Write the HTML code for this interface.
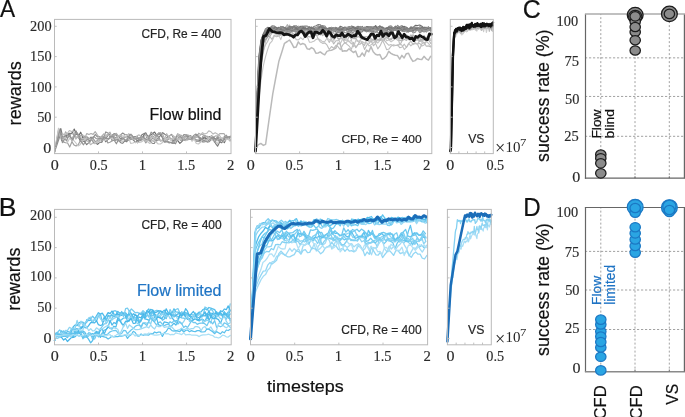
<!DOCTYPE html>
<html><head><meta charset="utf-8"><style>
html,body{margin:0;padding:0;background:#fff;width:685px;height:417px;overflow:hidden}
svg{display:block;will-change:transform}
</style></head><body>
<svg width="685" height="417" viewBox="0 0 685 417">
<rect width="685" height="417" fill="#fff"/>
<polyline points="54.5,152.6 59.0,129.1 61.7,140.7 63.8,136.7 65.9,135.4 68.0,134.6 70.1,134.0 72.2,132.8 74.3,129.1 76.5,134.3 78.6,135.7 80.7,132.2 82.8,137.9 84.9,137.2 87.0,139.2 89.1,138.8 91.2,137.4 93.4,142.3 95.5,143.0 97.6,144.3 99.7,142.3 101.8,142.2 103.9,137.0 106.0,138.8 108.1,134.6 110.3,136.9 112.4,136.8 114.5,137.2 116.6,137.5 118.7,140.2 120.8,138.6 122.9,137.6 125.0,137.3 127.1,136.3 129.3,138.7 131.4,139.0 133.5,140.0 135.6,142.6 137.7,140.0 139.8,140.5 141.9,139.7 144.0,134.6 146.2,135.6 148.3,136.4 150.4,135.0 152.5,133.8 154.6,132.0 156.7,135.4 158.8,133.0 160.9,135.3 163.1,138.6 165.2,140.2 167.3,137.2 169.4,136.1 171.5,134.4 173.6,137.6 175.7,138.5 177.8,140.6 179.9,143.4 182.1,141.3 184.2,136.9 186.3,135.2 188.4,137.9 190.5,135.7 192.6,137.8 194.7,137.3 196.8,136.0 199.0,137.6 201.1,139.5 203.2,137.7 205.3,138.2 207.4,139.2 209.5,137.5 211.6,138.1 213.7,137.4 215.9,139.5 218.0,137.5 220.1,139.6 222.2,139.7 224.3,142.7 226.4,138.6 228.5,138.2" fill="none" stroke="#6a6a6a" stroke-width="1.15" stroke-linejoin="round" stroke-linecap="round" opacity="1.0"/>
<polyline points="54.5,151.6 60.8,128.5 63.4,139.8 65.5,138.4 67.6,134.1 69.8,133.2 71.9,133.7 74.0,134.0 76.1,138.2 78.2,136.0 80.3,141.4 82.4,141.2 84.5,141.4 86.7,144.7 88.8,142.6 90.9,137.1 93.0,138.7 95.1,141.7 97.2,140.8 99.3,138.0 101.4,137.9 103.6,138.3 105.7,141.8 107.8,139.5 109.9,138.2 112.0,135.5 114.1,133.6 116.2,134.2 118.3,139.7 120.4,142.5 122.6,143.4 124.7,140.9 126.8,141.8 128.9,137.9 131.0,137.8 133.1,137.5 135.2,136.6 137.3,136.9 139.5,140.5 141.6,135.1 143.7,133.8 145.8,132.9 147.9,136.7 150.0,141.2 152.1,143.2 154.2,143.5 156.4,140.0 158.5,137.8 160.6,135.4 162.7,132.7 164.8,134.2 166.9,135.4 169.0,137.5 171.1,138.7 173.2,141.0 175.4,139.2 177.5,138.5 179.6,139.4 181.7,140.8 183.8,139.2 185.9,136.5 188.0,137.3 190.1,137.4 192.3,139.1 194.4,139.5 196.5,139.9 198.6,140.1 200.7,140.8 202.8,139.3 204.9,136.6 207.0,139.4 209.2,136.5 211.3,138.2 213.4,139.2 215.5,143.3 217.6,146.2 219.7,141.9 221.8,142.8 223.9,139.7 226.0,139.3 228.2,138.7 230.3,136.2" fill="none" stroke="#7c7c7c" stroke-width="1.15" stroke-linejoin="round" stroke-linecap="round" opacity="1.0"/>
<polyline points="54.5,152.1 60.9,133.2 63.6,139.7 65.7,136.7 67.8,137.4 69.9,134.5 72.0,141.1 74.1,134.4 76.2,131.0 78.3,137.6 80.5,138.5 82.6,139.9 84.7,140.1 86.8,136.8 88.9,138.5 91.0,140.5 93.1,137.7 95.2,134.5 97.4,136.9 99.5,136.5 101.6,140.4 103.7,137.0 105.8,131.9 107.9,132.9 110.0,135.0 112.1,140.7 114.2,140.2 116.4,143.8 118.5,139.6 120.6,134.9 122.7,133.0 124.8,134.5 126.9,134.7 129.0,137.4 131.1,137.0 133.3,136.8 135.4,137.2 137.5,142.9 139.6,140.3 141.7,138.4 143.8,139.7 145.9,138.1 148.0,136.4 150.2,141.3 152.3,138.2 154.4,139.2 156.5,141.1 158.6,139.6 160.7,140.7 162.8,140.7 164.9,141.8 167.0,141.8 169.2,142.9 171.3,142.3 173.4,142.9 175.5,143.8 177.6,139.5 179.7,139.0 181.8,137.9 183.9,134.6 186.1,134.7 188.2,136.1 190.3,139.2 192.4,137.2 194.5,136.7 196.6,135.2 198.7,136.7 200.8,138.0 203.0,142.3 205.1,139.6 207.2,142.1 209.3,141.6 211.4,139.3 213.5,138.8 215.6,138.8 217.7,137.7 219.8,141.5 222.0,140.2 224.1,136.9 226.2,135.2 228.3,139.5 230.4,137.1" fill="none" stroke="#8e8e8e" stroke-width="1.15" stroke-linejoin="round" stroke-linecap="round" opacity="1.0"/>
<polyline points="54.5,151.1 58.7,132.3 61.3,136.5 63.4,141.9 65.5,142.8 67.6,143.0 69.7,147.1 71.9,141.8 74.0,144.9 76.1,146.0 78.2,144.8 80.3,140.7 82.4,142.2 84.5,136.1 86.6,137.5 88.8,139.0 90.9,138.1 93.0,138.9 95.1,141.7 97.2,142.1 99.3,140.6 101.4,136.4 103.5,137.0 105.7,136.9 107.8,143.0 109.9,142.2 112.0,141.1 114.1,136.5 116.2,134.2 118.3,136.1 120.4,136.3 122.5,137.7 124.7,139.9 126.8,139.7 128.9,140.4 131.0,139.3 133.1,138.0 135.2,139.0 137.3,136.9 139.4,140.2 141.6,139.8 143.7,139.3 145.8,142.9 147.9,140.3 150.0,138.5 152.1,135.6 154.2,137.2 156.3,136.9 158.5,136.6 160.6,140.9 162.7,139.7 164.8,142.4 166.9,140.6 169.0,138.7 171.1,138.5 173.2,142.8 175.3,138.6 177.5,138.3 179.6,136.8 181.7,139.2 183.8,140.0 185.9,135.7 188.0,137.6 190.1,139.1 192.2,140.0 194.4,137.8 196.5,141.5 198.6,141.3 200.7,142.3 202.8,136.3 204.9,135.4 207.0,136.8 209.1,137.4 211.3,138.6 213.4,139.8 215.5,140.0 217.6,136.3 219.7,138.1 221.8,139.1 223.9,138.6 226.0,136.1 228.1,136.5 230.3,139.7" fill="none" stroke="#9e9e9e" stroke-width="1.15" stroke-linejoin="round" stroke-linecap="round" opacity="1.0"/>
<polyline points="54.5,152.4 58.8,129.1 61.4,137.7 63.5,137.6 65.6,131.8 67.8,134.9 69.9,136.8 72.0,138.4 74.1,135.4 76.2,137.4 78.3,137.8 80.4,135.5 82.5,134.5 84.7,138.2 86.8,133.5 88.9,134.5 91.0,133.5 93.1,134.4 95.2,131.6 97.3,134.9 99.4,137.5 101.5,136.6 103.7,133.9 105.8,135.4 107.9,134.3 110.0,132.1 112.1,137.5 114.2,134.5 116.3,133.3 118.4,136.1 120.6,136.8 122.7,138.1 124.8,136.2 126.9,138.1 129.0,136.5 131.1,134.1 133.2,139.1 135.3,137.6 137.5,137.8 139.6,138.7 141.7,137.4 143.8,137.7 145.9,140.7 148.0,140.6 150.1,139.5 152.2,140.2 154.3,141.8 156.5,135.3 158.6,133.4 160.7,132.6 162.8,134.4 164.9,139.7 167.0,139.5 169.1,137.7 171.2,138.6 173.4,139.3 175.5,138.0 177.6,133.7 179.7,134.7 181.8,135.6 183.9,137.8 186.0,134.7 188.1,135.1 190.3,136.0 192.4,137.1 194.5,138.3 196.6,137.3 198.7,133.2 200.8,134.5 202.9,134.4 205.0,136.9 207.1,136.2 209.3,139.3 211.4,135.5 213.5,137.0 215.6,135.9 217.7,136.0 219.8,133.5 221.9,133.6 224.0,133.6 226.2,137.9 228.3,139.6 230.4,140.6" fill="none" stroke="#acacac" stroke-width="1.15" stroke-linejoin="round" stroke-linecap="round" opacity="1.0"/>
<polyline points="54.5,151.7 58.4,130.3 61.0,137.3 63.1,134.1 65.2,135.0 67.3,133.5 69.4,130.5 71.6,131.5 73.7,130.8 75.8,139.1 77.9,135.4 80.0,136.3 82.1,138.8 84.2,138.3 86.3,140.5 88.5,141.8 90.6,144.7 92.7,143.0 94.8,143.7 96.9,142.7 99.0,138.3 101.1,137.5 103.2,140.1 105.4,137.7 107.5,135.0 109.6,135.6 111.7,136.0 113.8,136.5 115.9,138.8 118.0,135.7 120.1,135.1 122.2,135.9 124.4,136.3 126.5,136.8 128.6,133.7 130.7,135.5 132.8,139.5 134.9,138.1 137.0,135.8 139.1,134.9 141.3,136.4 143.4,139.7 145.5,134.5 147.6,137.4 149.7,136.9 151.8,137.2 153.9,138.3 156.0,138.6 158.2,140.1 160.3,140.6 162.4,140.2 164.5,139.2 166.6,133.6 168.7,136.9 170.8,134.8 172.9,135.6 175.0,137.0 177.2,139.8 179.3,138.9 181.4,140.2 183.5,138.5 185.6,137.3 187.7,139.6 189.8,136.4 191.9,137.0 194.1,137.0 196.2,136.5 198.3,137.4 200.4,135.2 202.5,132.7 204.6,134.0 206.7,133.3 208.8,130.9 211.0,131.8 213.1,134.1 215.2,132.7 217.3,134.0 219.4,135.3 221.5,138.6 223.6,137.5 225.7,138.7 227.8,137.4 230.0,141.2" fill="none" stroke="#bababa" stroke-width="1.15" stroke-linejoin="round" stroke-linecap="round" opacity="1.0"/>
<polyline points="54.5,151.8 58.5,128.2 61.1,138.7 63.2,139.7 65.3,137.3 67.4,142.5 69.5,138.5 71.7,139.9 73.8,140.5 75.9,143.0 78.0,146.0 80.1,144.8 82.2,141.1 84.3,140.0 86.4,137.9 88.5,139.4 90.7,139.2 92.8,139.9 94.9,142.6 97.0,141.8 99.1,142.2 101.2,139.5 103.3,140.3 105.4,140.3 107.6,139.0 109.7,137.4 111.8,138.8 113.9,139.6 116.0,139.5 118.1,137.6 120.2,140.6 122.3,142.8 124.5,135.6 126.6,137.7 128.7,138.5 130.8,143.4 132.9,143.0 135.0,142.1 137.1,142.5 139.2,142.4 141.3,141.9 143.5,140.6 145.6,138.6 147.7,141.7 149.8,143.5 151.9,141.2 154.0,140.4 156.1,142.0 158.2,144.0 160.4,144.0 162.5,142.5 164.6,140.4 166.7,138.4 168.8,137.7 170.9,140.7 173.0,137.1 175.1,137.0 177.3,138.5 179.4,139.5 181.5,138.1 183.6,139.7 185.7,140.6 187.8,140.2 189.9,137.5 192.0,141.3 194.1,139.0 196.3,143.5 198.4,144.0 200.5,142.2 202.6,139.5 204.7,142.3 206.8,139.7 208.9,137.6 211.0,139.6 213.2,140.4 215.3,140.7 217.4,144.2 219.5,137.9 221.6,137.9 223.7,141.4 225.8,139.8 227.9,139.1 230.1,139.9" fill="none" stroke="#c6c6c6" stroke-width="1.15" stroke-linejoin="round" stroke-linecap="round" opacity="1.0"/>
<polyline points="54.5,151.3 59.8,130.2 62.4,142.6 64.5,139.3 66.7,140.6 68.8,135.5 70.9,137.9 73.0,139.7 75.1,134.8 77.2,132.9 79.3,136.0 81.4,142.1 83.5,144.8 85.7,141.0 87.8,138.8 89.9,142.2 92.0,137.5 94.1,136.6 96.2,138.6 98.3,138.8 100.4,138.2 102.6,139.6 104.7,137.5 106.8,138.3 108.9,138.7 111.0,136.4 113.1,136.2 115.2,140.4 117.3,139.6 119.5,141.5 121.6,139.8 123.7,138.3 125.8,141.3 127.9,138.1 130.0,134.4 132.1,135.2 134.2,138.9 136.3,139.0 138.5,138.2 140.6,137.3 142.7,136.6 144.8,138.8 146.9,139.6 149.0,137.7 151.1,132.1 153.2,134.0 155.4,135.8 157.5,135.6 159.6,133.3 161.7,135.1 163.8,141.4 165.9,141.2 168.0,141.5 170.1,142.3 172.3,143.5 174.4,143.4 176.5,136.4 178.6,135.8 180.7,136.4 182.8,139.8 184.9,140.1 187.0,138.8 189.1,139.1 191.3,139.2 193.4,135.7 195.5,134.1 197.6,134.8 199.7,139.5 201.8,138.9 203.9,141.0 206.0,141.5 208.2,140.7 210.3,139.3 212.4,137.1 214.5,142.4 216.6,139.6 218.7,140.4 220.8,139.9 222.9,141.2 225.1,137.2 227.2,137.8 229.3,136.6" fill="none" stroke="#959595" stroke-width="1.15" stroke-linejoin="round" stroke-linecap="round" opacity="1.0"/>
<polyline points="255.5,147.5 256.6,117.2 258.8,78.3 261.0,57.2 263.2,42.1 265.4,36.2 267.6,34.3 269.8,32.2 272.0,30.8 274.2,28.6 276.4,29.6 278.6,27.3 280.8,30.4 283.0,30.6 285.2,31.8 287.4,30.9 289.6,26.1 291.8,32.5 294.0,34.8 296.2,33.7 298.5,29.3 300.7,29.7 302.9,32.8 305.1,32.3 307.3,35.7 309.5,36.9 311.7,36.7 313.9,34.1 316.1,35.2 318.3,35.1 320.5,32.6 322.7,35.7 324.9,33.3 327.1,37.9 329.3,32.8 331.5,39.4 333.7,43.9 335.9,40.7 338.1,40.7 340.3,38.8 342.6,38.1 344.8,43.2 347.0,41.9 349.2,35.5 351.4,39.5 353.6,36.4 355.8,38.8 358.0,40.8 360.2,43.3 362.4,43.3 364.6,45.4 366.8,39.0 369.0,40.3 371.2,42.2 373.4,39.3 375.6,42.4 377.8,40.1 380.0,38.7 382.2,37.5 384.4,38.5 386.7,36.6 388.9,39.3 391.1,38.6 393.3,36.6 395.5,38.2 397.7,37.2 399.9,44.9 402.1,40.8 404.3,39.2 406.5,40.4 408.7,38.1 410.9,34.8 413.1,36.7 415.3,37.0 417.5,39.9 419.7,41.5 421.9,40.8 424.1,43.2 426.3,41.8 428.5,39.1 430.8,40.4" fill="none" stroke="#b8b8b8" stroke-width="1.1" stroke-linejoin="round" stroke-linecap="round" opacity="1.0"/>
<polyline points="255.5,147.5 256.6,122.7 258.8,87.3 261.0,65.6 263.2,53.5 265.4,42.0 267.6,36.1 269.8,33.2 272.0,29.8 274.2,32.5 276.4,35.0 278.6,32.1 280.8,31.0 283.0,33.1 285.2,30.8 287.4,27.8 289.6,31.0 291.8,30.7 294.0,30.2 296.2,29.7 298.5,28.3 300.7,28.7 302.9,27.1 305.1,31.3 307.3,32.3 309.5,30.0 311.7,32.4 313.9,33.9 316.1,33.7 318.3,33.1 320.5,35.1 322.7,33.8 324.9,31.8 327.1,38.4 329.3,42.5 331.5,37.7 333.7,39.6 335.9,35.7 338.1,31.3 340.3,36.6 342.6,39.6 344.8,40.2 347.0,40.2 349.2,41.3 351.4,43.9 353.6,42.4 355.8,47.5 358.0,44.5 360.2,44.3 362.4,41.6 364.6,43.0 366.8,42.8 369.0,45.9 371.2,44.7 373.4,42.8 375.6,41.6 377.8,43.0 380.0,40.4 382.2,40.0 384.4,44.1 386.7,49.8 388.9,49.1 391.1,46.2 393.3,44.8 395.5,45.3 397.7,45.7 399.9,43.5 402.1,45.4 404.3,49.6 406.5,47.2 408.7,43.3 410.9,45.9 413.1,43.6 415.3,42.9 417.5,43.9 419.7,43.3 421.9,46.1 424.1,45.0 426.3,41.3 428.5,43.4 430.8,46.5" fill="none" stroke="#c0c0c0" stroke-width="1.1" stroke-linejoin="round" stroke-linecap="round" opacity="1.0"/>
<polyline points="255.5,147.5 256.6,117.1 258.8,76.1 261.0,53.0 263.2,43.5 265.4,33.1 267.6,30.3 269.8,32.2 272.0,32.8 274.2,31.4 276.4,31.7 278.6,33.6 280.8,35.4 283.0,30.7 285.2,32.3 287.4,27.8 289.6,25.0 291.8,28.9 294.0,26.8 296.2,29.8 298.5,26.0 300.7,26.9 302.9,32.2 305.1,32.0 307.3,31.3 309.5,30.0 311.7,27.1 313.9,32.6 316.1,31.2 318.3,24.9 320.5,29.6 322.7,32.3 324.9,32.1 327.1,35.1 329.3,32.5 331.5,32.9 333.7,31.9 335.9,31.4 338.1,29.8 340.3,34.2 342.6,34.8 344.8,39.7 347.0,36.2 349.2,36.8 351.4,36.9 353.6,38.6 355.8,38.6 358.0,36.4 360.2,37.9 362.4,38.0 364.6,38.8 366.8,38.8 369.0,37.0 371.2,39.1 373.4,39.7 375.6,40.4 377.8,39.9 380.0,39.1 382.2,39.9 384.4,39.6 386.7,37.3 388.9,39.3 391.1,39.9 393.3,37.2 395.5,38.3 397.7,37.7 399.9,40.8 402.1,40.2 404.3,34.6 406.5,35.6 408.7,37.2 410.9,37.3 413.1,40.0 415.3,40.8 417.5,39.5 419.7,37.5 421.9,42.3 424.1,35.6 426.3,38.9 428.5,39.4 430.8,43.5" fill="none" stroke="#b4b4b4" stroke-width="1.1" stroke-linejoin="round" stroke-linecap="round" opacity="1.0"/>
<polyline points="255.5,147.5 256.6,122.7 258.8,85.5 261.0,63.1 263.2,50.8 265.4,45.0 267.6,41.5 269.8,36.5 272.0,39.4 274.2,35.1 276.4,36.7 278.6,36.1 280.8,34.6 283.0,30.2 285.2,30.0 287.4,26.8 289.6,27.4 291.8,32.0 294.0,31.1 296.2,33.4 298.5,26.7 300.7,32.4 302.9,31.9 305.1,36.1 307.3,34.9 309.5,32.4 311.7,33.3 313.9,33.9 316.1,34.0 318.3,39.2 320.5,42.1 322.7,43.4 324.9,42.9 327.1,45.2 329.3,49.5 331.5,46.5 333.7,48.3 335.9,45.4 338.1,46.8 340.3,49.7 342.6,45.2 344.8,42.6 347.0,44.3 349.2,46.2 351.4,49.3 353.6,43.1 355.8,47.7 358.0,44.7 360.2,40.1 362.4,43.4 364.6,49.5 366.8,45.0 369.0,43.6 371.2,40.1 373.4,45.8 375.6,43.4 377.8,48.9 380.0,45.9 382.2,41.3 384.4,40.4 386.7,43.2 388.9,45.3 391.1,44.6 393.3,45.9 395.5,45.5 397.7,44.8 399.9,47.8 402.1,47.0 404.3,44.2 406.5,47.5 408.7,43.7 410.9,41.2 413.1,44.6 415.3,43.5 417.5,44.2 419.7,49.1 421.9,43.8 424.1,42.3 426.3,46.3 428.5,45.9 430.8,47.0" fill="none" stroke="#bcbcbc" stroke-width="1.1" stroke-linejoin="round" stroke-linecap="round" opacity="1.0"/>
<polyline points="255.5,147.5 256.6,129.5 258.8,100.2 261.0,80.2 263.2,66.4 265.4,57.1 267.6,49.6 269.8,43.5 272.0,41.2 274.2,36.3 276.4,36.3 278.6,34.6 280.8,39.6 283.0,32.8 285.2,35.3 287.4,33.5 289.6,36.8 291.8,31.4 294.0,34.8 296.2,39.8 298.5,39.9 300.7,37.7 302.9,39.6 305.1,36.2 307.3,36.8 309.5,42.2 311.7,42.1 313.9,41.2 316.1,39.4 318.3,38.8 320.5,40.0 322.7,41.9 324.9,41.3 327.1,38.0 329.3,39.6 331.5,41.3 333.7,41.1 335.9,36.6 338.1,37.7 340.3,43.8 342.6,39.0 344.8,37.7 347.0,39.2 349.2,41.8 351.4,40.1 353.6,46.8 355.8,40.5 358.0,41.5 360.2,40.8 362.4,37.7 364.6,38.2 366.8,39.7 369.0,42.0 371.2,39.0 373.4,40.9 375.6,39.6 377.8,40.6 380.0,37.8 382.2,39.7 384.4,35.7 386.7,40.8 388.9,39.9 391.1,41.9 393.3,40.3 395.5,38.6 397.7,40.4 399.9,36.9 402.1,36.9 404.3,36.6 406.5,39.2 408.7,39.7 410.9,39.3 413.1,39.4 415.3,43.0 417.5,44.1 419.7,40.4 421.9,41.7 424.1,39.5 426.3,39.4 428.5,37.7 430.8,39.2" fill="none" stroke="#c4c4c4" stroke-width="1.1" stroke-linejoin="round" stroke-linecap="round" opacity="1.0"/>
<polyline points="255.5,147.5 256.6,117.0 258.8,75.7 261.0,53.8 263.2,43.0 265.4,37.7 267.6,36.3 269.8,36.5 272.0,32.9 274.2,28.9 276.4,30.6 278.6,32.0 280.8,31.5 283.0,29.5 285.2,28.2 287.4,24.6 289.6,28.9 291.8,27.7 294.0,28.3 296.2,30.5 298.5,27.6 300.7,29.1 302.9,30.1 305.1,28.8 307.3,30.9 309.5,29.3 311.7,28.4 313.9,28.7 316.1,31.4 318.3,31.8 320.5,27.3 322.7,30.0 324.9,31.8 327.1,29.1 329.3,28.8 331.5,31.0 333.7,33.4 335.9,35.0 338.1,39.0 340.3,38.1 342.6,34.5 344.8,34.7 347.0,35.0 349.2,34.7 351.4,34.4 353.6,32.7 355.8,34.5 358.0,34.0 360.2,33.4 362.4,36.7 364.6,36.7 366.8,36.7 369.0,37.6 371.2,34.7 373.4,35.8 375.6,38.2 377.8,39.4 380.0,40.5 382.2,37.0 384.4,36.2 386.7,35.4 388.9,32.5 391.1,33.3 393.3,37.2 395.5,35.4 397.7,36.1 399.9,38.5 402.1,39.3 404.3,35.5 406.5,35.0 408.7,37.0 410.9,36.2 413.1,34.8 415.3,37.0 417.5,37.2 419.7,40.9 421.9,39.1 424.1,39.8 426.3,37.2 428.5,37.8 430.8,35.4" fill="none" stroke="#b0b0b0" stroke-width="1.1" stroke-linejoin="round" stroke-linecap="round" opacity="1.0"/>
<polyline points="255.5,149.5 258.1,144.8 260.8,143.4 263.4,145.4 265.6,144.3 268.7,122.1 272.8,93.6 275.8,77.5 278.8,61.6 282.0,51.6 284.5,43.3 287.3,41.5 289.5,40.0 291.7,43.3 293.9,47.6 296.1,47.1 298.3,41.9 300.5,44.6 302.7,43.5 304.9,44.4 307.1,48.7 309.3,49.4 311.5,47.6 313.7,48.9 315.9,53.2 318.1,53.0 320.3,51.9 322.5,53.7 324.7,54.8 326.9,51.4 329.1,50.6 331.4,50.2 333.6,49.4 335.8,48.1 338.0,43.0 340.2,44.1 342.4,51.2 344.6,50.7 346.8,51.0 349.0,48.7 351.2,50.7 353.4,52.5 355.6,51.1 357.8,56.7 360.0,56.4 362.2,53.0 364.4,56.1 366.6,50.1 368.8,51.8 371.0,46.6 373.2,51.7 375.5,54.2 377.7,55.0 379.9,54.6 382.1,59.2 384.3,58.3 386.5,56.0 388.7,51.2 390.9,53.4 393.1,54.5 395.3,55.2 397.5,55.6 399.7,59.1 401.9,55.4 404.1,58.0 406.3,53.7 408.5,53.3 410.7,58.0 412.9,61.4 415.1,60.6 417.3,58.6 419.6,59.2 421.8,59.5 424.0,56.3 426.2,58.8 428.4,60.1 430.6,56.4" fill="none" stroke="#bababa" stroke-width="1.5" stroke-linejoin="round" stroke-linecap="round" opacity="1.0"/>
<polyline points="255.5,149.9 256.6,110.2 258.8,65.2 261.0,45.7 263.2,36.4 265.4,34.2 267.6,30.3 269.8,30.0 272.0,29.3 274.2,29.9 276.4,29.6 278.6,29.4 280.8,33.2 283.0,29.5 285.2,28.9 287.4,29.5 289.6,26.9 291.8,27.5 294.0,27.0 296.2,28.9 298.5,27.8 300.7,28.2 302.9,29.0 305.1,28.2 307.3,28.5 309.5,31.0 311.7,29.6 313.9,28.9 316.1,27.2 318.3,26.7 320.5,29.5 322.7,28.4 324.9,31.3 327.1,30.3 329.3,28.3 331.5,28.3 333.7,30.6 335.9,28.1 338.1,28.5 340.3,28.7 342.6,28.0 344.8,27.1 347.0,28.1 349.2,27.6 351.4,29.0 353.6,28.7 355.8,28.4 358.0,28.0 360.2,27.9 362.4,29.2 364.6,27.3 366.8,27.4 369.0,29.3 371.2,30.0 373.4,28.3 375.6,28.4 377.8,26.9 380.0,26.1 382.2,27.5 384.4,29.6 386.7,28.3 388.9,27.7 391.1,27.3 393.3,29.0 395.5,29.0 397.7,27.2 399.9,26.6 402.1,25.6 404.3,29.4 406.5,30.0 408.7,29.2 410.9,31.1 413.1,30.0 415.3,29.0 417.5,29.4 419.7,29.6 421.9,28.7 424.1,27.4 426.3,27.2 428.5,28.6 430.8,27.5" fill="none" stroke="#8a8a8a" stroke-width="1.1" stroke-linejoin="round" stroke-linecap="round" opacity="1.0"/>
<polyline points="255.5,149.9 256.6,104.1 258.8,58.4 261.0,40.7 263.2,34.2 265.4,29.0 267.6,27.4 269.8,27.8 272.0,25.8 274.2,26.0 276.4,27.4 278.6,31.0 280.8,31.1 283.0,29.9 285.2,31.0 287.4,28.7 289.6,29.4 291.8,29.1 294.0,30.0 296.2,27.5 298.5,29.5 300.7,28.7 302.9,27.0 305.1,27.1 307.3,29.7 309.5,28.7 311.7,30.3 313.9,28.3 316.1,29.1 318.3,30.3 320.5,29.6 322.7,28.5 324.9,29.0 327.1,30.1 329.3,29.4 331.5,28.5 333.7,29.0 335.9,27.3 338.1,29.7 340.3,29.3 342.6,29.4 344.8,29.6 347.0,28.2 349.2,30.5 351.4,29.2 353.6,28.8 355.8,29.1 358.0,32.0 360.2,32.4 362.4,31.7 364.6,29.1 366.8,29.2 369.0,30.0 371.2,31.1 373.4,31.6 375.6,32.5 377.8,30.5 380.0,29.8 382.2,30.3 384.4,28.6 386.7,28.8 388.9,29.8 391.1,31.1 393.3,29.8 395.5,30.1 397.7,27.9 399.9,29.0 402.1,31.1 404.3,29.6 406.5,30.2 408.7,30.7 410.9,28.5 413.1,30.6 415.3,30.0 417.5,30.4 419.7,30.3 421.9,28.8 424.1,27.4 426.3,28.0 428.5,27.6 430.8,29.1" fill="none" stroke="#7c7c7c" stroke-width="1.1" stroke-linejoin="round" stroke-linecap="round" opacity="1.0"/>
<polyline points="255.5,149.9 256.6,115.2 258.8,72.1 261.0,50.5 263.2,40.7 265.4,33.2 267.6,32.9 269.8,32.5 272.0,32.7 274.2,30.5 276.4,31.6 278.6,29.3 280.8,30.6 283.0,29.2 285.2,27.2 287.4,29.7 289.6,33.6 291.8,30.5 294.0,29.3 296.2,29.7 298.5,29.7 300.7,28.3 302.9,31.2 305.1,30.4 307.3,27.8 309.5,29.6 311.7,29.8 313.9,29.9 316.1,28.5 318.3,31.2 320.5,30.8 322.7,29.1 324.9,27.9 327.1,30.4 329.3,29.4 331.5,29.8 333.7,29.2 335.9,27.6 338.1,30.7 340.3,31.1 342.6,30.5 344.8,32.5 347.0,32.9 349.2,31.2 351.4,29.5 353.6,29.3 355.8,30.0 358.0,29.7 360.2,29.0 362.4,28.8 364.6,31.0 366.8,32.0 369.0,29.5 371.2,31.6 373.4,29.2 375.6,28.6 377.8,30.0 380.0,29.6 382.2,28.7 384.4,29.6 386.7,30.5 388.9,29.1 391.1,28.6 393.3,27.8 395.5,30.0 397.7,29.3 399.9,29.4 402.1,28.2 404.3,29.3 406.5,30.6 408.7,29.5 410.9,31.5 413.1,31.5 415.3,30.4 417.5,28.4 419.7,30.7 421.9,30.5 424.1,30.3 426.3,32.2 428.5,30.0 430.8,30.4" fill="none" stroke="#959595" stroke-width="1.1" stroke-linejoin="round" stroke-linecap="round" opacity="1.0"/>
<polyline points="255.5,149.9 256.6,107.6 258.8,60.8 261.0,41.5 263.2,34.1 265.4,31.2 267.6,29.0 269.8,28.6 272.0,27.1 274.2,27.3 276.4,28.0 278.6,27.9 280.8,26.9 283.0,26.9 285.2,28.9 287.4,28.7 289.6,26.5 291.8,27.2 294.0,30.9 296.2,29.9 298.5,28.1 300.7,26.3 302.9,26.3 305.1,29.1 307.3,28.8 309.5,27.9 311.7,27.1 313.9,28.9 316.1,29.9 318.3,28.2 320.5,25.8 322.7,28.0 324.9,27.8 327.1,28.5 329.3,28.1 331.5,29.9 333.7,30.2 335.9,30.8 338.1,29.1 340.3,26.2 342.6,27.2 344.8,27.9 347.0,28.7 349.2,29.3 351.4,26.0 353.6,26.7 355.8,27.4 358.0,26.5 360.2,29.6 362.4,29.3 364.6,28.1 366.8,26.5 369.0,26.9 371.2,26.8 373.4,27.2 375.6,28.8 377.8,29.0 380.0,29.4 382.2,29.0 384.4,29.9 386.7,28.4 388.9,29.5 391.1,28.7 393.3,28.2 395.5,26.1 397.7,27.4 399.9,30.1 402.1,26.7 404.3,26.4 406.5,27.3 408.7,29.0 410.9,28.9 413.1,27.4 415.3,25.3 417.5,25.5 419.7,25.0 421.9,26.3 424.1,28.0 426.3,29.5 428.5,27.2 430.8,29.7" fill="none" stroke="#6f6f6f" stroke-width="1.1" stroke-linejoin="round" stroke-linecap="round" opacity="1.0"/>
<polyline points="255.5,149.9 256.6,119.2 258.8,77.8 261.0,55.9 263.2,43.8 265.4,39.8 267.6,37.1 269.8,33.9 272.0,31.0 274.2,31.4 276.4,31.3 278.6,30.7 280.8,30.6 283.0,30.6 285.2,30.7 287.4,31.0 289.6,31.4 291.8,31.6 294.0,31.0 296.2,31.9 298.5,29.2 300.7,29.7 302.9,31.7 305.1,28.4 307.3,29.9 309.5,33.1 311.7,33.7 313.9,31.5 316.1,32.2 318.3,30.1 320.5,31.7 322.7,30.0 324.9,31.9 327.1,29.0 329.3,29.0 331.5,29.9 333.7,29.9 335.9,29.6 338.1,29.2 340.3,32.1 342.6,31.0 344.8,30.2 347.0,29.3 349.2,28.9 351.4,31.4 353.6,30.0 355.8,31.5 358.0,30.5 360.2,31.3 362.4,29.2 364.6,30.0 366.8,30.0 369.0,31.9 371.2,31.2 373.4,29.3 375.6,28.6 377.8,30.5 380.0,29.5 382.2,30.8 384.4,31.9 386.7,29.9 388.9,28.0 391.1,29.2 393.3,31.3 395.5,28.2 397.7,29.1 399.9,29.7 402.1,28.7 404.3,29.7 406.5,32.2 408.7,31.6 410.9,30.6 413.1,28.9 415.3,29.9 417.5,30.4 419.7,31.2 421.9,31.6 424.1,30.5 426.3,29.6 428.5,30.9 430.8,29.4" fill="none" stroke="#a0a0a0" stroke-width="1.1" stroke-linejoin="round" stroke-linecap="round" opacity="1.0"/>
<polyline points="255.5,149.9 256.6,110.3 258.8,64.8 261.0,46.7 263.2,34.6 265.4,33.2 267.6,29.3 269.8,29.0 272.0,29.4 274.2,29.5 276.4,30.3 278.6,30.4 280.8,30.6 283.0,26.7 285.2,28.5 287.4,28.0 289.6,27.1 291.8,26.6 294.0,28.0 296.2,27.2 298.5,29.2 300.7,30.4 302.9,28.4 305.1,29.4 307.3,29.5 309.5,28.2 311.7,28.6 313.9,28.7 316.1,28.5 318.3,28.0 320.5,26.4 322.7,25.8 324.9,26.1 327.1,29.1 329.3,28.3 331.5,27.2 333.7,28.2 335.9,28.8 338.1,28.7 340.3,29.6 342.6,28.9 344.8,28.7 347.0,27.4 349.2,28.2 351.4,27.6 353.6,27.5 355.8,29.2 358.0,26.7 360.2,26.9 362.4,27.9 364.6,29.1 366.8,27.3 369.0,27.7 371.2,27.7 373.4,27.9 375.6,29.2 377.8,29.3 380.0,29.0 382.2,26.8 384.4,28.3 386.7,28.7 388.9,26.4 391.1,25.9 393.3,27.8 395.5,27.7 397.7,25.4 399.9,27.9 402.1,28.9 404.3,29.3 406.5,30.9 408.7,31.9 410.9,30.3 413.1,30.4 415.3,27.6 417.5,28.5 419.7,28.5 421.9,28.4 424.1,29.6 426.3,28.6 428.5,27.6 430.8,27.9" fill="none" stroke="#868686" stroke-width="1.1" stroke-linejoin="round" stroke-linecap="round" opacity="1.0"/>
<polyline points="255.5,149.9 256.6,104.0 258.8,56.9 261.0,39.9 263.2,34.8 265.4,33.3 267.6,29.8 269.8,28.4 272.0,32.4 274.2,30.2 276.4,31.7 278.6,31.5 280.8,28.6 283.0,27.6 285.2,27.7 287.4,30.0 289.6,29.1 291.8,27.8 294.0,26.0 296.2,27.7 298.5,30.0 300.7,28.8 302.9,28.6 305.1,28.7 307.3,29.3 309.5,30.5 311.7,28.8 313.9,27.7 316.1,30.3 318.3,29.5 320.5,26.9 322.7,25.7 324.9,29.4 327.1,29.0 329.3,28.8 331.5,29.2 333.7,30.0 335.9,32.2 338.1,32.1 340.3,31.7 342.6,29.9 344.8,29.2 347.0,29.0 349.2,30.0 351.4,30.9 353.6,28.7 355.8,29.6 358.0,30.5 360.2,29.7 362.4,29.2 364.6,29.8 366.8,31.1 369.0,30.7 371.2,30.1 373.4,28.1 375.6,25.7 377.8,28.7 380.0,29.0 382.2,28.5 384.4,28.9 386.7,27.8 388.9,27.3 391.1,27.5 393.3,29.5 395.5,30.2 397.7,30.6 399.9,30.4 402.1,30.2 404.3,28.7 406.5,28.8 408.7,30.3 410.9,27.2 413.1,30.5 415.3,27.7 417.5,27.9 419.7,27.7 421.9,30.3 424.1,28.8 426.3,29.8 428.5,28.6 430.8,30.4" fill="none" stroke="#787878" stroke-width="1.1" stroke-linejoin="round" stroke-linecap="round" opacity="1.0"/>
<polyline points="255.5,149.9 256.6,115.3 258.8,73.0 261.0,51.7 263.2,41.2 265.4,35.0 267.6,33.3 269.8,31.4 272.0,31.7 274.2,30.1 276.4,30.3 278.6,30.6 280.8,31.5 283.0,31.7 285.2,33.6 287.4,31.9 289.6,31.6 291.8,28.9 294.0,31.1 296.2,29.7 298.5,30.2 300.7,29.1 302.9,29.6 305.1,33.4 307.3,33.2 309.5,33.4 311.7,32.4 313.9,30.4 316.1,30.0 318.3,31.8 320.5,33.5 322.7,32.9 324.9,32.1 327.1,30.2 329.3,31.5 331.5,31.4 333.7,29.2 335.9,30.4 338.1,30.3 340.3,30.1 342.6,30.5 344.8,29.7 347.0,31.1 349.2,32.1 351.4,33.1 353.6,31.9 355.8,29.9 358.0,32.5 360.2,31.9 362.4,30.6 364.6,30.5 366.8,30.5 369.0,30.5 371.2,31.5 373.4,30.4 375.6,29.8 377.8,32.5 380.0,33.9 382.2,32.1 384.4,33.3 386.7,31.1 388.9,29.1 391.1,30.3 393.3,28.7 395.5,29.7 397.7,32.3 399.9,30.2 402.1,30.3 404.3,29.8 406.5,29.6 408.7,28.9 410.9,29.8 413.1,33.0 415.3,32.2 417.5,28.8 419.7,33.0 421.9,31.3 424.1,31.9 426.3,30.8 428.5,29.0 430.8,31.3" fill="none" stroke="#909090" stroke-width="1.1" stroke-linejoin="round" stroke-linecap="round" opacity="1.0"/>
<polyline points="255.5,149.9 256.6,109.7 258.8,63.8 261.0,45.0 263.2,38.2 265.4,32.4 267.6,30.1 269.8,29.8 272.0,27.7 274.2,29.8 276.4,29.4 278.6,27.3 280.8,28.3 283.0,27.5 285.2,30.3 287.4,29.3 289.6,28.0 291.8,27.3 294.0,26.0 296.2,25.7 298.5,27.5 300.7,27.3 302.9,26.3 305.1,26.1 307.3,26.1 309.5,27.4 311.7,28.5 313.9,26.5 316.1,25.8 318.3,24.5 320.5,24.8 322.7,27.7 324.9,28.5 327.1,29.4 329.3,27.8 331.5,28.4 333.7,29.6 335.9,27.7 338.1,28.2 340.3,27.6 342.6,29.0 344.8,27.4 347.0,27.6 349.2,26.5 351.4,27.9 353.6,29.7 355.8,28.0 358.0,26.2 360.2,27.5 362.4,26.4 364.6,29.8 366.8,27.9 369.0,28.2 371.2,28.0 373.4,27.9 375.6,26.9 377.8,27.6 380.0,25.8 382.2,29.6 384.4,30.6 386.7,30.8 388.9,28.2 391.1,28.0 393.3,28.7 395.5,29.3 397.7,28.4 399.9,27.3 402.1,27.2 404.3,27.5 406.5,28.1 408.7,28.8 410.9,26.8 413.1,27.5 415.3,28.0 417.5,28.9 419.7,26.8 421.9,27.4 424.1,28.3 426.3,29.0 428.5,28.3 430.8,28.6" fill="none" stroke="#808080" stroke-width="1.1" stroke-linejoin="round" stroke-linecap="round" opacity="1.0"/>
<polyline points="255.5,149.9 256.6,110.6 258.8,64.7 261.0,45.8 263.2,37.1 265.4,31.9 267.6,30.5 269.8,29.2 272.0,29.3 274.2,29.7 276.4,30.6 278.6,31.5 280.8,30.0 283.0,31.3 285.2,31.6 287.4,32.3 289.6,30.5 291.8,29.4 294.0,30.6 296.2,31.0 298.5,32.9 300.7,32.7 302.9,31.3 305.1,30.1 307.3,29.7 309.5,33.0 311.7,29.8 313.9,30.1 316.1,28.0 318.3,28.4 320.5,29.7 322.7,29.0 324.9,29.2 327.1,29.9 329.3,31.3 331.5,27.6 333.7,31.6 335.9,29.6 338.1,30.9 340.3,31.4 342.6,30.9 344.8,29.3 347.0,27.2 349.2,29.1 351.4,26.8 353.6,29.7 355.8,30.0 358.0,29.6 360.2,26.4 362.4,28.3 364.6,28.0 366.8,28.0 369.0,29.4 371.2,29.7 373.4,30.0 375.6,32.4 377.8,29.8 380.0,28.8 382.2,28.8 384.4,30.2 386.7,32.2 388.9,32.0 391.1,31.4 393.3,29.7 395.5,28.6 397.7,30.7 399.9,28.9 402.1,29.3 404.3,30.4 406.5,29.6 408.7,30.2 410.9,28.7 413.1,29.3 415.3,29.7 417.5,28.6 419.7,27.6 421.9,28.7 424.1,29.8 426.3,30.8 428.5,29.7 430.8,30.3" fill="none" stroke="#999999" stroke-width="1.1" stroke-linejoin="round" stroke-linecap="round" opacity="1.0"/>
<polyline points="255.5,149.9 256.6,110.0 258.8,64.3 261.0,43.8 263.2,35.7 265.4,32.8 267.6,29.3 269.8,30.2 272.0,29.0 274.2,28.1 276.4,29.4 278.6,27.6 280.8,29.4 283.0,30.2 285.2,30.3 287.4,29.3 289.6,29.3 291.8,31.1 294.0,29.6 296.2,28.8 298.5,30.2 300.7,30.2 302.9,28.4 305.1,28.6 307.3,28.9 309.5,26.7 311.7,28.5 313.9,28.9 316.1,30.1 318.3,28.7 320.5,26.7 322.7,27.9 324.9,28.4 327.1,29.2 329.3,28.7 331.5,28.9 333.7,27.8 335.9,28.9 338.1,29.6 340.3,30.1 342.6,29.2 344.8,29.8 347.0,29.0 349.2,28.9 351.4,28.3 353.6,27.3 355.8,29.1 358.0,28.3 360.2,28.7 362.4,29.5 364.6,30.1 366.8,30.4 369.0,29.9 371.2,28.2 373.4,27.9 375.6,25.9 377.8,29.7 380.0,26.5 382.2,27.4 384.4,28.4 386.7,28.4 388.9,29.4 391.1,30.3 393.3,30.3 395.5,27.7 397.7,28.5 399.9,28.1 402.1,30.5 404.3,29.1 406.5,29.3 408.7,30.2 410.9,27.8 413.1,28.6 415.3,29.2 417.5,28.2 419.7,28.8 421.9,27.7 424.1,28.9 426.3,28.1 428.5,28.5 430.8,28.7" fill="none" stroke="#747474" stroke-width="1.1" stroke-linejoin="round" stroke-linecap="round" opacity="1.0"/>
<polyline points="255.5,149.9 256.6,110.6 258.8,64.8 261.0,45.2 263.2,37.5 265.4,33.5 267.6,32.0 269.8,29.5 272.0,27.8 274.2,31.7 276.4,31.6 278.6,29.7 280.8,26.4 283.0,28.1 285.2,30.2 287.4,31.4 289.6,30.3 291.8,29.4 294.0,29.9 296.2,32.0 298.5,30.6 300.7,29.9 302.9,31.3 305.1,32.7 307.3,33.4 309.5,31.7 311.7,31.6 313.9,32.4 316.1,29.2 318.3,29.0 320.5,29.5 322.7,31.0 324.9,30.1 327.1,29.6 329.3,30.2 331.5,31.1 333.7,27.9 335.9,29.8 338.1,32.2 340.3,32.2 342.6,30.8 344.8,29.0 347.0,31.2 349.2,30.4 351.4,31.5 353.6,29.6 355.8,30.9 358.0,30.2 360.2,26.9 362.4,29.3 364.6,27.2 366.8,30.2 369.0,29.1 371.2,28.4 373.4,26.6 375.6,28.9 377.8,29.3 380.0,28.8 382.2,30.0 384.4,28.6 386.7,30.7 388.9,32.2 391.1,32.5 393.3,29.9 395.5,29.0 397.7,30.8 399.9,30.0 402.1,31.1 404.3,31.5 406.5,30.0 408.7,29.9 410.9,30.2 413.1,29.3 415.3,27.0 417.5,27.2 419.7,29.6 421.9,29.1 424.1,28.8 426.3,28.4 428.5,26.7 430.8,30.7" fill="none" stroke="#8e8e8e" stroke-width="1.1" stroke-linejoin="round" stroke-linecap="round" opacity="1.0"/>
<polyline points="255.5,151.1 257.3,120.2 259.0,89.9 260.8,62.7 263.4,36.6 266.1,35.4 269.4,28.7 272.3,31.6 274.2,31.8 276.1,32.5 278.1,32.9 280.0,32.6 282.0,32.8 283.9,34.8 285.8,34.2 287.8,34.3 289.7,35.0 291.7,35.7 293.6,37.2 295.5,34.8 297.5,34.9 299.4,32.1 301.4,31.1 303.3,32.9 305.2,36.6 307.2,33.7 309.1,32.2 311.1,32.0 313.0,37.7 314.9,32.2 316.9,32.3 318.8,33.4 320.8,33.1 322.7,30.2 324.6,32.3 326.6,36.0 328.5,31.6 330.5,33.2 332.4,36.3 334.4,37.2 336.3,34.6 338.2,35.7 340.2,35.7 342.1,32.9 344.1,36.6 346.0,36.2 347.9,34.1 349.9,35.1 351.8,36.5 353.8,35.5 355.7,35.8 357.6,31.1 359.6,33.8 361.5,37.0 363.5,38.3 365.4,39.0 367.3,39.6 369.3,36.9 371.2,33.9 373.2,33.9 375.1,38.4 377.0,35.2 379.0,35.8 380.9,31.1 382.9,36.4 384.8,33.9 386.7,33.5 388.7,35.9 390.6,32.9 392.6,33.0 394.5,37.8 396.4,36.5 398.4,31.6 400.3,34.6 402.3,37.7 404.2,34.2 406.1,37.0 408.1,37.2 410.0,38.9 412.0,37.9 413.9,40.6 415.8,36.5 417.8,37.4 419.7,35.4 421.7,36.7 423.6,37.4 425.5,39.4 427.5,39.6 429.4,33.9 431.4,34.1" fill="none" stroke="#141414" stroke-width="2.8" stroke-linejoin="round" stroke-linecap="round" opacity="1.0"/>
<polyline points="450.3,151.1 450.9,148.7 452.0,99.0 452.9,56.6 453.7,43.7 454.3,37.9 454.7,35.8 455.2,37.0 455.7,36.7 456.1,34.2 456.6,34.5 457.1,32.3 457.6,33.1 458.0,32.9 458.5,31.5 459.0,29.9 459.5,30.4 459.9,30.9 460.4,33.5 460.9,33.8 461.4,32.0 461.8,34.9 462.3,34.3 462.8,32.9 463.2,33.7 463.7,32.3 464.2,32.4 464.7,30.6 465.1,30.7 465.6,31.5 466.1,31.3 466.6,31.9 467.0,30.7 467.5,31.4 468.0,29.3 468.4,30.2 468.9,28.5 469.4,29.1 469.9,30.1 470.3,29.5 470.8,28.3 471.3,28.0 471.8,29.7 472.2,29.4 472.7,29.7 473.2,28.4 473.6,29.3 474.1,28.2 474.6,28.6 475.1,29.7 475.5,30.2 476.0,29.2 476.5,30.9 477.0,31.0 477.4,27.1 477.9,27.8 478.4,29.1 478.9,28.6 479.3,28.6 479.8,28.5 480.3,29.2 480.7,29.8 481.2,29.4 481.7,27.9 482.2,29.2 482.6,27.6 483.1,26.4 483.6,31.7 484.1,29.4 484.5,28.2 485.0,28.1 485.5,28.5 485.9,28.1 486.4,32.4 486.9,30.2 487.4,27.9 487.8,27.6 488.3,28.5 488.8,28.1 489.3,26.9 489.7,28.3 490.2,28.9 490.7,27.0 491.1,27.4 491.6,29.2 492.1,29.9 492.6,31.4 493.0,28.5" fill="none" stroke="#cccccc" stroke-width="1.2" stroke-linejoin="round" stroke-linecap="round" opacity="1.0"/>
<polyline points="450.3,151.1 450.9,148.7 452.0,99.0 452.9,56.6 453.7,42.9 454.3,38.0 454.7,34.6 455.2,32.6 455.7,32.4 456.1,32.7 456.6,30.6 457.1,31.2 457.6,32.1 458.0,31.3 458.5,31.6 459.0,30.4 459.5,30.8 459.9,32.7 460.4,31.1 460.9,33.4 461.4,32.4 461.8,31.8 462.3,30.3 462.8,31.4 463.2,30.6 463.7,30.6 464.2,30.2 464.7,29.8 465.1,29.5 465.6,28.7 466.1,29.6 466.6,29.9 467.0,30.0 467.5,28.8 468.0,29.1 468.4,28.9 468.9,29.2 469.4,29.9 469.9,28.8 470.3,28.9 470.8,30.1 471.3,28.9 471.8,29.0 472.2,27.7 472.7,27.3 473.2,28.0 473.6,29.0 474.1,28.6 474.6,27.6 475.1,26.4 475.5,27.2 476.0,29.0 476.5,26.7 477.0,27.2 477.4,28.4 477.9,26.4 478.4,28.8 478.9,26.3 479.3,27.5 479.8,26.9 480.3,26.6 480.7,28.4 481.2,28.6 481.7,30.5 482.2,29.5 482.6,27.2 483.1,28.1 483.6,25.2 484.1,26.3 484.5,28.5 485.0,27.8 485.5,28.6 485.9,28.4 486.4,28.1 486.9,28.2 487.4,28.0 487.8,28.3 488.3,27.5 488.8,29.0 489.3,31.5 489.7,28.0 490.2,27.0 490.7,26.9 491.1,29.5 491.6,30.6 492.1,26.9 492.6,27.7 493.0,26.9" fill="none" stroke="#b8b8b8" stroke-width="1.2" stroke-linejoin="round" stroke-linecap="round" opacity="1.0"/>
<polyline points="450.3,151.1 450.9,148.7 452.0,99.0 452.9,56.6 453.7,42.3 454.3,35.0 454.7,34.6 455.2,32.3 455.7,33.3 456.1,33.1 456.6,33.0 457.1,31.6 457.6,30.5 458.0,29.8 458.5,30.2 459.0,29.1 459.5,28.1 459.9,29.4 460.4,30.5 460.9,29.6 461.4,29.4 461.8,30.5 462.3,30.9 462.8,29.3 463.2,29.5 463.7,31.2 464.2,29.7 464.7,28.8 465.1,27.5 465.6,27.7 466.1,29.6 466.6,25.7 467.0,28.1 467.5,27.1 468.0,28.7 468.4,29.2 468.9,26.7 469.4,25.9 469.9,27.1 470.3,28.3 470.8,28.9 471.3,26.8 471.8,25.9 472.2,26.0 472.7,25.0 473.2,25.4 473.6,26.7 474.1,27.0 474.6,27.3 475.1,28.0 475.5,28.1 476.0,26.6 476.5,27.4 477.0,24.7 477.4,27.9 477.9,27.2 478.4,24.8 478.9,27.2 479.3,27.5 479.8,24.4 480.3,27.2 480.7,27.1 481.2,26.6 481.7,25.3 482.2,23.5 482.6,26.7 483.1,26.2 483.6,26.2 484.1,28.0 484.5,27.7 485.0,27.4 485.5,25.6 485.9,26.9 486.4,24.2 486.9,27.1 487.4,27.2 487.8,27.5 488.3,27.1 488.8,27.1 489.3,26.2 489.7,27.2 490.2,28.2 490.7,27.2 491.1,27.4 491.6,29.0 492.1,25.5 492.6,27.1 493.0,26.8" fill="none" stroke="#a0a0a0" stroke-width="1.3" stroke-linejoin="round" stroke-linecap="round" opacity="1.0"/>
<polyline points="450.3,151.1 450.9,148.7 452.0,99.0 452.9,56.6 453.7,41.5 454.3,32.7 454.7,33.5 455.2,32.1 455.7,31.2 456.1,31.1 456.6,29.2 457.1,31.5 457.6,28.1 458.0,28.2 458.5,28.5 459.0,28.4 459.5,29.1 459.9,30.1 460.4,27.8 460.9,29.2 461.4,30.8 461.8,31.0 462.3,29.5 462.8,30.0 463.2,26.8 463.7,27.4 464.2,28.2 464.7,27.2 465.1,29.0 465.6,29.0 466.1,27.4 466.6,27.5 467.0,25.9 467.5,27.8 468.0,27.3 468.4,27.1 468.9,24.7 469.4,24.8 469.9,25.0 470.3,26.3 470.8,27.1 471.3,25.6 471.8,25.8 472.2,24.9 472.7,25.8 473.2,25.6 473.6,26.8 474.1,26.8 474.6,25.6 475.1,26.1 475.5,26.6 476.0,25.2 476.5,25.5 477.0,24.7 477.4,23.1 477.9,26.0 478.4,24.5 478.9,25.5 479.3,24.8 479.8,26.0 480.3,25.8 480.7,26.5 481.2,27.2 481.7,25.7 482.2,26.0 482.6,26.3 483.1,25.5 483.6,24.8 484.1,23.4 484.5,24.5 485.0,26.0 485.5,26.2 485.9,24.0 486.4,25.2 486.9,24.4 487.4,25.1 487.8,24.8 488.3,26.2 488.8,24.2 489.3,25.4 489.7,25.8 490.2,26.0 490.7,26.7 491.1,25.5 491.6,24.6 492.1,23.8 492.6,24.6 493.0,25.4" fill="none" stroke="#1a1a1a" stroke-width="2.2" stroke-linejoin="round" stroke-linecap="round" opacity="1.0"/>
<polyline points="450.3,151.1 450.9,148.7 452.0,99.0 452.9,56.6 453.7,41.0 454.3,33.0 454.7,31.9 455.2,30.0 455.7,31.6 456.1,29.0 456.6,29.9 457.1,29.7 457.6,29.5 458.0,29.4 458.5,28.6 459.0,27.6 459.5,27.7 459.9,27.9 460.4,28.6 460.9,28.1 461.4,29.9 461.8,29.2 462.3,29.3 462.8,28.5 463.2,27.6 463.7,30.2 464.2,28.7 464.7,28.1 465.1,28.3 465.6,29.0 466.1,26.3 466.6,25.1 467.0,24.9 467.5,25.0 468.0,25.6 468.4,25.4 468.9,25.3 469.4,28.2 469.9,25.5 470.3,24.3 470.8,25.3 471.3,25.3 471.8,23.0 472.2,25.6 472.7,26.1 473.2,25.6 473.6,25.3 474.1,24.9 474.6,24.9 475.1,24.1 475.5,25.0 476.0,25.7 476.5,24.1 477.0,24.4 477.4,25.6 477.9,24.5 478.4,24.4 478.9,24.6 479.3,25.7 479.8,25.8 480.3,25.6 480.7,24.0 481.2,26.7 481.7,24.9 482.2,24.3 482.6,23.2 483.1,24.7 483.6,25.6 484.1,26.3 484.5,25.7 485.0,24.4 485.5,26.0 485.9,24.6 486.4,24.7 486.9,23.8 487.4,24.3 487.8,24.5 488.3,25.3 488.8,25.5 489.3,25.1 489.7,25.7 490.2,24.1 490.7,24.9 491.1,25.0 491.6,25.0 492.1,23.3 492.6,23.3 493.0,22.5" fill="none" stroke="#111111" stroke-width="2.4" stroke-linejoin="round" stroke-linecap="round" opacity="1.0"/>
<polyline points="54.5,340.9 55.8,335.7 57.8,335.8 59.7,334.2 61.6,330.9 63.6,334.0 65.5,334.7 67.4,331.3 69.4,332.3 71.3,332.2 73.3,326.8 75.2,324.9 77.1,325.6 79.1,322.7 81.0,322.0 82.9,322.0 84.9,325.6 86.8,319.7 88.8,320.7 90.7,319.9 92.6,322.4 94.6,318.8 96.5,315.8 98.4,312.7 100.4,314.1 102.3,313.1 104.2,316.1 106.2,320.4 108.1,315.2 110.1,316.5 112.0,315.2 113.9,316.8 115.9,314.6 117.8,311.4 119.7,313.3 121.7,312.4 123.6,315.6 125.6,313.0 127.5,315.1 129.4,314.2 131.4,319.0 133.3,317.3 135.2,315.1 137.2,315.6 139.1,323.1 141.1,321.0 143.0,315.8 144.9,318.9 146.9,319.4 148.8,320.3 150.7,317.6 152.7,320.5 154.6,321.5 156.5,317.9 158.5,324.9 160.4,325.3 162.4,325.5 164.3,321.9 166.2,322.3 168.2,322.9 170.1,326.9 172.0,325.4 174.0,323.2 175.9,325.0 177.9,321.6 179.8,315.0 181.7,311.8 183.7,314.8 185.6,316.8 187.5,319.4 189.5,319.0 191.4,321.4 193.4,319.5 195.3,319.0 197.2,319.9 199.2,320.9 201.1,319.6 203.0,319.6 205.0,321.3 206.9,317.0 208.9,313.8 210.8,315.8 212.7,318.7 214.7,318.4 216.6,318.6 218.5,319.6 220.5,323.5 222.4,318.1 224.3,314.2 226.3,315.3 228.2,317.9 230.2,318.8" fill="none" stroke="#4fbbea" stroke-width="1.25" stroke-linejoin="round" stroke-linecap="round" opacity="1.0"/>
<polyline points="54.5,340.9 55.8,335.4 57.8,335.6 59.7,335.7 61.6,334.0 63.6,333.1 65.5,331.9 67.4,334.1 69.4,334.2 71.3,330.7 73.3,327.5 75.2,332.0 77.1,331.6 79.1,329.5 81.0,326.7 82.9,327.9 84.9,323.3 86.8,322.2 88.8,318.3 90.7,318.8 92.6,316.2 94.6,318.5 96.5,321.2 98.4,316.3 100.4,314.0 102.3,321.9 104.2,316.9 106.2,320.2 108.1,316.5 110.1,316.0 112.0,314.3 113.9,310.8 115.9,310.8 117.8,314.5 119.7,315.6 121.7,311.5 123.6,314.2 125.6,313.1 127.5,317.8 129.4,310.5 131.4,313.8 133.3,317.4 135.2,318.1 137.2,317.1 139.1,320.2 141.1,320.4 143.0,316.5 144.9,318.7 146.9,315.5 148.8,316.1 150.7,316.0 152.7,315.6 154.6,314.3 156.5,315.6 158.5,317.2 160.4,316.9 162.4,320.3 164.3,318.9 166.2,314.1 168.2,314.0 170.1,312.8 172.0,316.2 174.0,317.0 175.9,315.8 177.9,316.3 179.8,316.9 181.7,317.9 183.7,318.1 185.6,318.6 187.5,317.6 189.5,318.9 191.4,316.7 193.4,316.7 195.3,316.4 197.2,315.2 199.2,312.7 201.1,314.8 203.0,314.7 205.0,311.8 206.9,319.0 208.9,316.3 210.8,312.9 212.7,315.0 214.7,313.2 216.6,312.2 218.5,315.8 220.5,311.9 222.4,316.4 224.3,312.0 226.3,314.4 228.2,312.0 230.2,321.1" fill="none" stroke="#62c3ee" stroke-width="1.25" stroke-linejoin="round" stroke-linecap="round" opacity="1.0"/>
<polyline points="54.5,340.9 55.8,334.8 57.8,335.7 59.7,337.2 61.6,337.3 63.6,340.1 65.5,338.6 67.4,341.5 69.4,339.5 71.3,337.6 73.3,337.5 75.2,336.6 77.1,334.9 79.1,329.1 81.0,328.8 82.9,325.8 84.9,327.6 86.8,327.9 88.8,325.4 90.7,322.7 92.6,322.7 94.6,322.9 96.5,320.8 98.4,324.7 100.4,325.5 102.3,324.8 104.2,318.8 106.2,315.9 108.1,312.6 110.1,313.6 112.0,311.0 113.9,314.0 115.9,315.3 117.8,313.8 119.7,315.0 121.7,315.3 123.6,312.9 125.6,316.3 127.5,321.4 129.4,320.9 131.4,317.0 133.3,313.7 135.2,314.8 137.2,316.9 139.1,317.1 141.1,317.8 143.0,313.9 144.9,317.4 146.9,310.7 148.8,311.7 150.7,316.6 152.7,311.6 154.6,313.9 156.5,318.3 158.5,316.9 160.4,318.3 162.4,318.2 164.3,314.1 166.2,308.8 168.2,312.7 170.1,313.7 172.0,317.6 174.0,320.3 175.9,321.4 177.9,319.6 179.8,315.7 181.7,313.9 183.7,313.6 185.6,315.2 187.5,313.6 189.5,316.1 191.4,316.4 193.4,320.0 195.3,318.4 197.2,320.1 199.2,319.4 201.1,315.6 203.0,315.6 205.0,315.9 206.9,313.8 208.9,320.5 210.8,316.7 212.7,313.2 214.7,314.4 216.6,311.8 218.5,315.2 220.5,313.3 222.4,315.7 224.3,313.2 226.3,314.2 228.2,314.7 230.2,310.7" fill="none" stroke="#45b5e8" stroke-width="1.25" stroke-linejoin="round" stroke-linecap="round" opacity="1.0"/>
<polyline points="54.5,340.9 55.8,337.7 57.8,338.3 59.7,337.0 61.6,336.2 63.6,336.1 65.5,334.0 67.4,336.2 69.4,332.8 71.3,329.1 73.3,329.0 75.2,332.2 77.1,335.2 79.1,331.9 81.0,332.0 82.9,338.8 84.9,337.1 86.8,335.4 88.8,332.6 90.7,333.3 92.6,337.2 94.6,332.9 96.5,331.3 98.4,332.4 100.4,328.9 102.3,326.4 104.2,323.9 106.2,323.6 108.1,320.1 110.1,321.8 112.0,318.6 113.9,314.2 115.9,316.5 117.8,318.0 119.7,316.3 121.7,313.6 123.6,316.6 125.6,308.6 127.5,308.1 129.4,311.5 131.4,309.0 133.3,310.8 135.2,312.8 137.2,312.3 139.1,313.1 141.1,313.2 143.0,310.6 144.9,312.5 146.9,312.4 148.8,317.2 150.7,316.9 152.7,310.6 154.6,311.4 156.5,310.4 158.5,310.6 160.4,314.5 162.4,312.2 164.3,312.5 166.2,314.7 168.2,315.7 170.1,309.5 172.0,313.1 174.0,311.4 175.9,309.5 177.9,308.6 179.8,312.7 181.7,312.7 183.7,312.1 185.6,312.9 187.5,316.4 189.5,314.9 191.4,314.4 193.4,315.1 195.3,312.9 197.2,316.3 199.2,312.5 201.1,317.0 203.0,316.0 205.0,307.0 206.9,308.0 208.9,312.0 210.8,309.2 212.7,310.7 214.7,315.7 216.6,317.3 218.5,312.7 220.5,315.2 222.4,315.1 224.3,316.4 226.3,319.2 228.2,314.6 230.2,303.8" fill="none" stroke="#78ccf0" stroke-width="1.25" stroke-linejoin="round" stroke-linecap="round" opacity="1.0"/>
<polyline points="54.5,340.9 55.8,335.6 57.8,332.6 59.7,335.6 61.6,334.5 63.6,334.2 65.5,336.1 67.4,334.1 69.4,334.3 71.3,334.4 73.3,335.2 75.2,334.1 77.1,331.8 79.1,333.0 81.0,331.2 82.9,331.0 84.9,332.3 86.8,336.6 88.8,339.7 90.7,342.8 92.6,340.5 94.6,335.2 96.5,334.6 98.4,333.1 100.4,337.4 102.3,333.3 104.2,330.2 106.2,329.3 108.1,327.1 110.1,328.5 112.0,329.2 113.9,326.2 115.9,327.1 117.8,320.1 119.7,320.8 121.7,319.6 123.6,318.0 125.6,317.9 127.5,315.0 129.4,314.2 131.4,313.7 133.3,318.3 135.2,320.5 137.2,320.0 139.1,322.5 141.1,319.6 143.0,316.9 144.9,316.1 146.9,311.0 148.8,309.0 150.7,313.4 152.7,309.9 154.6,317.9 156.5,317.6 158.5,313.2 160.4,311.4 162.4,312.6 164.3,316.8 166.2,318.5 168.2,312.7 170.1,313.1 172.0,313.1 174.0,308.7 175.9,312.0 177.9,312.1 179.8,313.0 181.7,316.5 183.7,313.0 185.6,312.9 187.5,313.1 189.5,315.5 191.4,317.6 193.4,316.7 195.3,315.5 197.2,313.7 199.2,312.1 201.1,311.8 203.0,309.5 205.0,308.7 206.9,309.9 208.9,307.5 210.8,308.1 212.7,308.8 214.7,309.6 216.6,313.4 218.5,314.4 220.5,313.3 222.4,315.6 224.3,311.8 226.3,315.5 228.2,316.6 230.2,313.9" fill="none" stroke="#56bfeb" stroke-width="1.25" stroke-linejoin="round" stroke-linecap="round" opacity="1.0"/>
<polyline points="54.5,340.9 55.8,335.9 57.8,334.7 59.7,337.7 61.6,335.5 63.6,333.6 65.5,330.3 67.4,330.6 69.4,327.3 71.3,328.6 73.3,328.0 75.2,328.1 77.1,320.4 79.1,326.7 81.0,321.2 82.9,325.3 84.9,322.7 86.8,321.0 88.8,317.8 90.7,317.1 92.6,321.7 94.6,320.0 96.5,317.5 98.4,314.7 100.4,318.8 102.3,320.9 104.2,319.9 106.2,323.2 108.1,320.3 110.1,316.9 112.0,320.1 113.9,318.4 115.9,317.4 117.8,315.3 119.7,319.5 121.7,323.4 123.6,326.7 125.6,322.3 127.5,318.3 129.4,318.2 131.4,316.6 133.3,320.6 135.2,318.6 137.2,323.4 139.1,323.8 141.1,328.1 143.0,323.5 144.9,322.5 146.9,323.4 148.8,321.9 150.7,324.0 152.7,317.0 154.6,321.0 156.5,315.0 158.5,315.0 160.4,316.5 162.4,313.6 164.3,316.1 166.2,317.2 168.2,314.8 170.1,318.6 172.0,317.7 174.0,311.0 175.9,314.8 177.9,319.9 179.8,322.6 181.7,324.0 183.7,321.7 185.6,317.9 187.5,316.7 189.5,321.4 191.4,318.7 193.4,314.7 195.3,319.0 197.2,316.3 199.2,314.6 201.1,313.9 203.0,323.3 205.0,320.6 206.9,320.6 208.9,320.1 210.8,323.2 212.7,315.2 214.7,318.5 216.6,316.6 218.5,316.1 220.5,318.6 222.4,318.9 224.3,315.7 226.3,321.4 228.2,324.0 230.2,322.7" fill="none" stroke="#8cd4f2" stroke-width="1.25" stroke-linejoin="round" stroke-linecap="round" opacity="1.0"/>
<polyline points="54.5,340.9 55.8,335.1 57.8,333.9 59.7,335.5 61.6,334.1 63.6,333.9 65.5,336.3 67.4,337.6 69.4,334.8 71.3,335.2 73.3,336.7 75.2,329.3 77.1,328.6 79.1,332.7 81.0,334.7 82.9,337.6 84.9,334.8 86.8,334.5 88.8,335.3 90.7,335.4 92.6,336.5 94.6,334.7 96.5,331.7 98.4,334.8 100.4,330.3 102.3,329.0 104.2,334.1 106.2,329.6 108.1,326.9 110.1,320.4 112.0,325.1 113.9,322.5 115.9,323.6 117.8,318.3 119.7,320.1 121.7,323.8 123.6,324.7 125.6,321.4 127.5,321.8 129.4,319.4 131.4,319.3 133.3,323.5 135.2,323.3 137.2,317.2 139.1,313.7 141.1,314.5 143.0,312.6 144.9,314.5 146.9,311.7 148.8,312.4 150.7,309.3 152.7,310.2 154.6,313.0 156.5,312.1 158.5,310.9 160.4,310.9 162.4,311.9 164.3,310.1 166.2,313.1 168.2,314.7 170.1,313.8 172.0,315.1 174.0,314.8 175.9,315.5 177.9,313.8 179.8,313.6 181.7,315.4 183.7,314.1 185.6,308.7 187.5,311.2 189.5,316.2 191.4,313.7 193.4,311.5 195.3,314.4 197.2,318.2 199.2,317.2 201.1,316.1 203.0,315.4 205.0,312.2 206.9,315.2 208.9,311.0 210.8,316.5 212.7,318.1 214.7,318.8 216.6,313.1 218.5,314.8 220.5,310.7 222.4,311.6 224.3,309.0 226.3,309.7 228.2,305.9 230.2,310.3" fill="none" stroke="#4cb8e9" stroke-width="1.25" stroke-linejoin="round" stroke-linecap="round" opacity="1.0"/>
<polyline points="54.5,340.9 55.8,333.0 57.8,332.0 59.7,329.9 61.6,332.6 63.6,330.8 65.5,333.9 67.4,335.8 69.4,334.3 71.3,332.6 73.3,333.6 75.2,335.4 77.1,335.3 79.1,336.2 81.0,334.7 82.9,337.0 84.9,336.8 86.8,337.3 88.8,335.7 90.7,333.8 92.6,339.4 94.6,338.9 96.5,334.9 98.4,336.9 100.4,335.3 102.3,333.0 104.2,334.0 106.2,335.0 108.1,333.8 110.1,331.8 112.0,331.0 113.9,330.7 115.9,330.4 117.8,332.7 119.7,333.9 121.7,333.5 123.6,330.4 125.6,330.6 127.5,333.9 129.4,331.7 131.4,329.8 133.3,328.5 135.2,326.4 137.2,325.3 139.1,325.0 141.1,326.6 143.0,322.9 144.9,323.8 146.9,325.6 148.8,321.5 150.7,317.7 152.7,319.9 154.6,322.3 156.5,324.9 158.5,322.7 160.4,321.9 162.4,324.3 164.3,325.7 166.2,324.6 168.2,324.4 170.1,321.7 172.0,323.0 174.0,320.3 175.9,322.3 177.9,324.1 179.8,321.8 181.7,323.4 183.7,327.5 185.6,326.1 187.5,327.5 189.5,324.3 191.4,320.9 193.4,322.6 195.3,322.4 197.2,324.4 199.2,323.4 201.1,323.2 203.0,323.0 205.0,323.9 206.9,325.7 208.9,321.4 210.8,321.7 212.7,323.8 214.7,320.7 216.6,327.4 218.5,325.7 220.5,326.8 222.4,325.8 224.3,322.8 226.3,323.7 228.2,325.2 230.2,327.4" fill="none" stroke="#6dc8ef" stroke-width="1.25" stroke-linejoin="round" stroke-linecap="round" opacity="1.0"/>
<polyline points="54.5,340.9 55.8,335.5 57.8,334.0 59.7,333.6 61.6,332.7 63.6,334.2 65.5,335.7 67.4,336.6 69.4,336.0 71.3,336.9 73.3,331.2 75.2,330.1 77.1,330.6 79.1,328.4 81.0,332.8 82.9,329.9 84.9,324.3 86.8,327.3 88.8,330.7 90.7,328.6 92.6,330.9 94.6,330.6 96.5,327.8 98.4,329.3 100.4,329.3 102.3,329.0 104.2,327.6 106.2,326.2 108.1,325.2 110.1,328.2 112.0,327.7 113.9,327.9 115.9,328.3 117.8,329.3 119.7,334.6 121.7,330.3 123.6,326.0 125.6,323.1 127.5,328.4 129.4,324.9 131.4,326.5 133.3,328.3 135.2,329.6 137.2,329.6 139.1,329.4 141.1,328.8 143.0,328.2 144.9,327.4 146.9,326.7 148.8,327.9 150.7,324.8 152.7,327.6 154.6,329.0 156.5,325.5 158.5,326.6 160.4,326.6 162.4,325.1 164.3,327.3 166.2,326.8 168.2,327.0 170.1,325.7 172.0,327.3 174.0,329.4 175.9,331.5 177.9,330.1 179.8,329.5 181.7,328.1 183.7,330.0 185.6,329.0 187.5,328.1 189.5,329.4 191.4,328.7 193.4,328.7 195.3,326.5 197.2,326.6 199.2,327.3 201.1,330.6 203.0,327.5 205.0,326.7 206.9,329.4 208.9,328.9 210.8,326.9 212.7,330.3 214.7,332.0 216.6,330.1 218.5,323.3 220.5,323.1 222.4,324.4 224.3,326.6 226.3,327.8 228.2,326.5 230.2,325.6" fill="none" stroke="#9cdaf4" stroke-width="1.25" stroke-linejoin="round" stroke-linecap="round" opacity="1.0"/>
<polyline points="54.5,340.9 55.8,333.8 57.8,334.3 59.7,334.4 61.6,335.7 63.6,336.4 65.5,336.1 67.4,335.9 69.4,335.4 71.3,333.6 73.3,333.9 75.2,332.3 77.1,332.8 79.1,332.7 81.0,331.9 82.9,332.4 84.9,335.0 86.8,334.4 88.8,334.3 90.7,334.8 92.6,333.6 94.6,334.6 96.5,333.2 98.4,333.1 100.4,335.9 102.3,336.3 104.2,336.9 106.2,337.5 108.1,339.0 110.1,337.7 112.0,336.0 113.9,337.0 115.9,336.7 117.8,336.7 119.7,335.9 121.7,336.1 123.6,335.6 125.6,334.9 127.5,338.4 129.4,335.9 131.4,334.5 133.3,331.3 135.2,332.5 137.2,335.9 139.1,336.2 141.1,333.9 143.0,335.3 144.9,334.7 146.9,334.9 148.8,335.1 150.7,333.4 152.7,334.0 154.6,332.0 156.5,332.8 158.5,332.0 160.4,332.2 162.4,336.4 164.3,332.7 166.2,331.5 168.2,328.2 170.1,328.7 172.0,330.6 174.0,331.1 175.9,330.5 177.9,331.1 179.8,331.6 181.7,329.5 183.7,332.0 185.6,330.5 187.5,330.0 189.5,331.7 191.4,330.6 193.4,331.4 195.3,331.6 197.2,330.6 199.2,330.6 201.1,331.9 203.0,332.0 205.0,331.6 206.9,329.0 208.9,329.2 210.8,330.5 212.7,331.8 214.7,333.7 216.6,331.6 218.5,332.7 220.5,333.9 222.4,331.7 224.3,332.8 226.3,330.0 228.2,330.5 230.2,329.2" fill="none" stroke="#5ac0ec" stroke-width="1.25" stroke-linejoin="round" stroke-linecap="round" opacity="1.0"/>
<polyline points="54.5,340.9 55.8,335.2 57.8,335.5 59.7,335.5 61.6,335.1 63.6,335.1 65.5,334.8 67.4,334.8 69.4,335.0 71.3,335.3 73.3,334.7 75.2,335.5 77.1,334.7 79.1,335.8 81.0,335.9 82.9,335.7 84.9,334.8 86.8,334.5 88.8,335.2 90.7,335.1 92.6,335.7 94.6,334.6 96.5,334.4 98.4,334.7 100.4,334.9 102.3,335.5 104.2,335.4 106.2,336.0 108.1,335.0 110.1,334.7 112.0,337.0 113.9,336.3 115.9,335.2 117.8,334.0 119.7,334.4 121.7,335.5 123.6,335.1 125.6,334.6 127.5,335.3 129.4,334.6 131.4,333.9 133.3,333.8 135.2,336.1 137.2,334.6 139.1,335.3 141.1,335.1 143.0,334.6 144.9,333.8 146.9,334.2 148.8,333.0 150.7,334.2 152.7,334.7 154.6,335.1 156.5,335.1 158.5,334.8 160.4,334.5 162.4,333.5 164.3,333.3 166.2,333.9 168.2,333.7 170.1,334.8 172.0,334.4 174.0,334.6 175.9,332.8 177.9,333.5 179.8,333.9 181.7,334.6 183.7,332.7 185.6,334.8 187.5,334.6 189.5,334.4 191.4,335.0 193.4,335.0 195.3,335.1 197.2,335.4 199.2,336.6 201.1,335.3 203.0,334.9 205.0,334.9 206.9,334.6 208.9,334.2 210.8,335.2 212.7,335.5 214.7,337.2 216.6,337.4 218.5,338.0 220.5,337.1 222.4,335.2 224.3,335.5 226.3,336.8 228.2,337.1 230.2,335.4" fill="none" stroke="#a9dff5" stroke-width="1.25" stroke-linejoin="round" stroke-linecap="round" opacity="1.0"/>
<polyline points="250.5,338.5 254.0,283.9 255.8,274.9 258.0,266.3 260.2,260.2 262.4,257.7 264.6,250.2 266.8,246.8 269.1,246.8 271.3,246.2 273.5,239.7 275.7,236.4 277.9,238.7 280.1,238.4 282.3,237.9 284.5,240.8 286.7,240.4 288.9,239.7 291.1,236.8 293.3,241.2 295.6,241.4 297.8,238.8 300.0,241.3 302.2,240.7 304.4,242.0 306.6,240.8 308.8,238.3 311.0,239.9 313.2,239.5 315.4,237.2 317.6,238.7 319.9,243.9 322.1,234.9 324.3,236.0 326.5,238.7 328.7,238.0 330.9,239.2 333.1,239.6 335.3,235.4 337.5,238.4 339.7,240.7 341.9,239.2 344.2,233.8 346.4,234.1 348.6,233.0 350.8,233.8 353.0,237.7 355.2,236.3 357.4,234.8 359.6,238.4 361.8,241.8 364.0,240.5 366.2,246.0 368.4,243.7 370.7,243.1 372.9,242.1 375.1,242.2 377.3,247.0 379.5,238.4 381.7,236.7 383.9,236.5 386.1,235.4 388.3,233.0 390.5,236.7 392.7,238.3 395.0,238.8 397.2,239.7 399.4,242.0 401.6,240.5 403.8,243.1 406.0,240.5 408.2,241.9 410.4,244.6 412.6,240.9 414.8,244.4 417.0,241.2 419.2,241.5 421.5,236.8 423.7,243.7 425.9,241.2" fill="none" stroke="#8fd5f3" stroke-width="1.3" stroke-linejoin="round" stroke-linecap="round" opacity="1.0"/>
<polyline points="250.5,338.5 254.0,278.1 255.8,269.8 258.0,258.9 260.2,252.3 262.4,248.5 264.6,243.5 266.8,242.0 269.1,235.7 271.3,240.2 273.5,236.3 275.7,232.1 277.9,234.1 280.1,235.7 282.3,236.0 284.5,234.2 286.7,238.5 288.9,241.6 291.1,235.4 293.3,234.7 295.6,238.7 297.8,234.5 300.0,233.5 302.2,233.7 304.4,235.8 306.6,237.1 308.8,244.3 311.0,239.7 313.2,240.9 315.4,236.8 317.6,231.0 319.9,238.7 322.1,237.3 324.3,237.6 326.5,238.7 328.7,238.5 330.9,238.2 333.1,238.2 335.3,240.8 337.5,242.5 339.7,240.6 341.9,237.8 344.2,239.8 346.4,239.1 348.6,238.0 350.8,239.2 353.0,240.6 355.2,240.7 357.4,240.2 359.6,236.9 361.8,236.1 364.0,236.4 366.2,241.4 368.4,240.6 370.7,238.2 372.9,240.8 375.1,243.0 377.3,241.1 379.5,239.0 381.7,240.7 383.9,243.8 386.1,241.6 388.3,238.9 390.5,241.3 392.7,242.3 395.0,248.9 397.2,243.1 399.4,240.2 401.6,239.7 403.8,240.4 406.0,241.4 408.2,241.9 410.4,240.5 412.6,244.9 414.8,240.2 417.0,243.3 419.2,247.4 421.5,245.0 423.7,247.4 425.9,247.1" fill="none" stroke="#6fcaf0" stroke-width="1.3" stroke-linejoin="round" stroke-linecap="round" opacity="1.0"/>
<polyline points="250.5,338.5 254.9,293.4 256.7,289.1 258.9,284.1 261.1,279.5 263.3,276.3 265.5,274.6 267.7,270.1 269.9,268.0 272.1,261.8 274.4,261.1 276.6,256.2 278.8,255.9 281.0,253.2 283.2,254.1 285.4,255.4 287.6,251.8 289.8,248.3 292.0,251.4 294.2,248.7 296.4,250.7 298.7,249.0 300.9,253.5 303.1,245.8 305.3,245.1 307.5,243.4 309.7,245.1 311.9,249.2 314.1,243.9 316.3,251.1 318.5,245.7 320.7,243.8 322.9,244.9 325.2,243.2 327.4,237.7 329.6,241.2 331.8,249.1 334.0,244.6 336.2,240.4 338.4,241.4 340.6,244.7 342.8,246.1 345.0,245.5 347.2,247.4 349.5,245.6 351.7,243.6 353.9,246.9 356.1,245.0 358.3,243.8 360.5,245.8 362.7,250.6 364.9,248.7 367.1,244.1 369.3,250.4 371.5,254.8 373.7,247.5 376.0,248.6 378.2,244.9 380.4,241.5 382.6,241.0 384.8,249.2 387.0,251.8 389.2,246.0 391.4,249.0 393.6,246.4 395.8,249.1 398.0,246.0 400.3,243.9 402.5,240.9 404.7,245.7 406.9,249.2 409.1,256.0 411.3,251.6 413.5,247.8 415.7,248.4 417.9,245.4 420.1,249.1 422.3,252.1 424.5,248.4 426.8,245.2" fill="none" stroke="#a3dcf5" stroke-width="1.3" stroke-linejoin="round" stroke-linecap="round" opacity="1.0"/>
<polyline points="250.5,338.5 253.6,272.3 255.4,262.4 257.6,250.1 259.8,245.8 262.0,244.2 264.2,236.8 266.4,239.9 268.6,241.6 270.8,235.6 273.0,232.4 275.2,234.0 277.4,239.5 279.7,239.0 281.9,234.1 284.1,232.8 286.3,233.5 288.5,236.7 290.7,237.4 292.9,235.7 295.1,233.8 297.3,231.1 299.5,229.8 301.7,234.3 304.0,234.5 306.2,240.2 308.4,240.1 310.6,239.0 312.8,236.4 315.0,235.1 317.2,233.0 319.4,231.7 321.6,236.0 323.8,236.4 326.0,238.0 328.2,236.0 330.5,230.4 332.7,233.9 334.9,236.1 337.1,239.4 339.3,238.3 341.5,238.8 343.7,236.1 345.9,238.9 348.1,239.5 350.3,234.3 352.5,231.8 354.8,230.7 357.0,235.5 359.2,237.9 361.4,235.6 363.6,232.9 365.8,232.9 368.0,236.6 370.2,232.8 372.4,234.2 374.6,238.1 376.8,239.5 379.0,237.6 381.3,239.7 383.5,237.4 385.7,240.8 387.9,238.0 390.1,239.0 392.3,239.0 394.5,234.2 396.7,232.8 398.9,239.8 401.1,238.1 403.3,232.1 405.6,238.4 407.8,240.4 410.0,240.0 412.2,234.8 414.4,232.8 416.6,236.4 418.8,239.8 421.0,239.6 423.2,233.4 425.4,240.4" fill="none" stroke="#7ecff2" stroke-width="1.3" stroke-linejoin="round" stroke-linecap="round" opacity="1.0"/>
<polyline points="250.5,338.5 254.0,281.7 255.8,272.7 258.0,263.5 260.2,257.6 262.4,253.1 264.6,246.4 266.8,245.5 269.1,240.3 271.3,241.0 273.5,240.0 275.7,237.3 277.9,235.5 280.1,238.0 282.3,235.4 284.5,239.3 286.7,235.7 288.9,232.9 291.1,237.6 293.3,234.4 295.6,241.2 297.8,232.9 300.0,233.8 302.2,234.7 304.4,233.9 306.6,238.1 308.8,236.1 311.0,237.7 313.2,238.3 315.4,237.4 317.6,237.1 319.9,235.9 322.1,237.7 324.3,235.8 326.5,234.2 328.7,236.6 330.9,234.1 333.1,231.7 335.3,233.4 337.5,233.1 339.7,235.9 341.9,235.2 344.2,233.8 346.4,236.5 348.6,237.0 350.8,230.9 353.0,234.5 355.2,238.3 357.4,237.5 359.6,236.2 361.8,236.6 364.0,232.3 366.2,239.1 368.4,230.3 370.7,234.4 372.9,233.3 375.1,236.3 377.3,236.4 379.5,235.2 381.7,233.5 383.9,235.8 386.1,234.2 388.3,233.9 390.5,234.2 392.7,234.1 395.0,241.0 397.2,237.6 399.4,237.7 401.6,233.8 403.8,238.2 406.0,240.8 408.2,231.9 410.4,225.4 412.6,234.8 414.8,233.1 417.0,232.8 419.2,235.4 421.5,234.1 423.7,237.4 425.9,237.1" fill="none" stroke="#5ec2ee" stroke-width="1.3" stroke-linejoin="round" stroke-linecap="round" opacity="1.0"/>
<polyline points="250.5,338.5 254.9,288.7 256.7,284.8 258.9,279.3 261.1,274.9 263.3,271.1 265.5,270.9 267.7,265.2 269.9,262.6 272.1,264.0 274.4,262.3 276.6,260.3 278.8,253.6 281.0,251.1 283.2,253.5 285.4,255.4 287.6,256.8 289.8,256.8 292.0,255.7 294.2,254.6 296.4,250.9 298.7,251.6 300.9,254.2 303.1,250.4 305.3,249.7 307.5,252.7 309.7,252.4 311.9,247.9 314.1,248.7 316.3,249.4 318.5,251.2 320.7,253.8 322.9,252.1 325.2,248.2 327.4,246.9 329.6,245.6 331.8,242.1 334.0,245.4 336.2,246.2 338.4,249.6 340.6,249.1 342.8,248.3 345.0,251.3 347.2,248.7 349.5,251.2 351.7,250.6 353.9,251.9 356.1,250.3 358.3,245.9 360.5,247.3 362.7,249.4 364.9,255.7 367.1,252.0 369.3,254.3 371.5,247.4 373.7,251.1 376.0,254.9 378.2,255.2 380.4,252.1 382.6,257.6 384.8,254.5 387.0,251.8 389.2,250.3 391.4,252.6 393.6,255.4 395.8,250.7 398.0,250.5 400.3,253.7 402.5,252.6 404.7,253.3 406.9,251.1 409.1,255.1 411.3,257.4 413.5,253.7 415.7,251.9 417.9,254.2 420.1,254.1 422.3,258.2 424.5,259.0 426.8,255.5" fill="none" stroke="#94d7f4" stroke-width="1.3" stroke-linejoin="round" stroke-linecap="round" opacity="1.0"/>
<polyline points="250.5,338.5 254.5,287.5 256.2,282.4 258.5,275.3 260.7,270.1 262.9,262.5 265.1,260.8 267.3,258.0 269.5,254.2 271.7,253.9 273.9,256.8 276.1,252.2 278.3,246.2 280.5,248.4 282.7,249.0 285.0,248.9 287.2,239.2 289.4,241.1 291.6,242.8 293.8,242.1 296.0,242.3 298.2,248.4 300.4,245.0 302.6,244.0 304.8,245.1 307.0,242.1 309.3,241.5 311.5,240.7 313.7,243.3 315.9,244.0 318.1,250.0 320.3,248.4 322.5,245.5 324.7,248.6 326.9,246.8 329.1,246.9 331.3,246.4 333.5,248.1 335.8,246.1 338.0,241.6 340.2,251.9 342.4,249.3 344.6,243.9 346.8,241.2 349.0,244.0 351.2,243.7 353.4,250.3 355.6,251.2 357.8,244.4 360.1,247.1 362.3,249.8 364.5,245.0 366.7,245.3 368.9,249.8 371.1,246.1 373.3,248.9 375.5,247.5 377.7,251.8 379.9,251.4 382.1,254.5 384.4,247.6 386.6,247.5 388.8,251.6 391.0,244.2 393.2,245.9 395.4,249.7 397.6,250.5 399.8,250.4 402.0,247.2 404.2,255.5 406.4,250.2 408.6,245.1 410.9,245.3 413.1,247.9 415.3,250.2 417.5,247.8 419.7,244.8 421.9,246.2 424.1,244.8 426.3,247.5" fill="none" stroke="#b0e1f6" stroke-width="1.3" stroke-linejoin="round" stroke-linecap="round" opacity="1.0"/>
<polyline points="250.5,338.5 253.6,268.2 255.4,259.7 257.6,250.7 259.8,243.0 262.0,236.9 264.2,237.8 266.4,233.6 268.6,229.1 270.8,223.9 273.0,228.9 275.2,231.1 277.4,231.2 279.7,232.7 281.9,229.6 284.1,237.3 286.3,231.1 288.5,233.6 290.7,232.9 292.9,232.6 295.1,230.7 297.3,229.4 299.5,236.8 301.7,235.6 304.0,231.3 306.2,235.0 308.4,236.3 310.6,229.8 312.8,230.4 315.0,229.7 317.2,228.9 319.4,232.6 321.6,232.3 323.8,236.0 326.0,234.6 328.2,233.1 330.5,227.2 332.7,234.2 334.9,230.6 337.1,233.1 339.3,234.5 341.5,235.8 343.7,227.9 345.9,232.1 348.1,229.7 350.3,232.7 352.5,229.5 354.8,230.5 357.0,229.2 359.2,231.6 361.4,229.1 363.6,230.5 365.8,233.0 368.0,234.7 370.2,235.6 372.4,230.4 374.6,237.5 376.8,238.0 379.0,233.8 381.3,233.0 383.5,232.4 385.7,233.3 387.9,234.9 390.1,232.8 392.3,234.9 394.5,241.6 396.7,239.4 398.9,237.3 401.1,233.0 403.3,232.0 405.6,229.4 407.8,235.9 410.0,236.9 412.2,235.9 414.4,235.2 416.6,233.5 418.8,235.1 421.0,235.3 423.2,230.9 425.4,233.7" fill="none" stroke="#6cc8ef" stroke-width="1.3" stroke-linejoin="round" stroke-linecap="round" opacity="1.0"/>
<polyline points="250.5,338.5 254.0,277.9 255.8,270.4 258.0,266.6 260.2,259.7 262.4,256.2 264.6,252.7 266.8,251.3 269.1,251.8 271.3,248.5 273.5,249.7 275.7,244.6 277.9,244.3 280.1,245.0 282.3,241.6 284.5,242.7 286.7,242.7 288.9,242.8 291.1,242.0 293.3,239.3 295.6,242.3 297.8,241.0 300.0,244.4 302.2,242.1 304.4,239.0 306.6,241.8 308.8,236.5 311.0,237.5 313.2,239.8 315.4,239.8 317.6,243.5 319.9,238.5 322.1,244.6 324.3,241.1 326.5,238.8 328.7,235.7 330.9,234.3 333.1,241.0 335.3,239.7 337.5,236.9 339.7,241.4 341.9,245.0 344.2,244.4 346.4,241.4 348.6,237.2 350.8,240.5 353.0,240.0 355.2,239.8 357.4,241.1 359.6,237.7 361.8,237.5 364.0,237.9 366.2,244.1 368.4,242.3 370.7,242.8 372.9,240.8 375.1,240.2 377.3,240.1 379.5,240.2 381.7,240.4 383.9,239.9 386.1,233.8 388.3,240.9 390.5,241.1 392.7,240.1 395.0,241.9 397.2,240.1 399.4,240.2 401.6,240.9 403.8,235.0 406.0,239.7 408.2,238.4 410.4,240.6 412.6,238.1 414.8,243.7 417.0,238.1 419.2,240.8 421.5,239.8 423.7,233.6 425.9,238.1" fill="none" stroke="#84d1f2" stroke-width="1.3" stroke-linejoin="round" stroke-linecap="round" opacity="1.0"/>
<polyline points="250.5,338.5 254.9,232.6 256.7,228.3 258.9,227.7 261.1,224.1 263.3,222.6 265.5,222.6 267.7,224.2 269.9,222.7 272.1,220.3 274.4,220.7 276.6,221.1 278.8,223.9 281.0,223.8 283.2,224.2 285.4,223.3 287.6,222.5 289.8,221.3 292.0,220.8 294.2,220.4 296.4,218.6 298.7,223.4 300.9,221.2 303.1,223.5 305.3,222.3 307.5,223.5 309.7,224.4 311.9,225.7 314.1,221.5 316.3,222.2 318.5,220.2 320.7,219.2 322.9,220.9 325.2,224.7 327.4,223.4 329.6,225.8 331.8,224.7 334.0,222.7 336.2,222.9 338.4,223.5 340.6,221.6 342.8,220.6 345.0,222.0 347.2,222.1 349.5,224.6 351.7,219.0 353.9,219.7 356.1,220.8 358.3,219.1 360.5,221.0 362.7,220.5 364.9,220.3 367.1,218.8 369.3,217.3 371.5,216.5 373.7,220.3 376.0,221.9 378.2,219.5 380.4,218.9 382.6,214.9 384.8,218.1 387.0,219.4 389.2,220.5 391.4,219.6 393.6,218.8 395.8,218.5 398.0,217.2 400.3,218.1 402.5,217.5 404.7,221.0 406.9,219.2 409.1,220.0 411.3,218.0 413.5,220.5 415.7,219.3 417.9,220.3 420.1,220.8 422.3,221.2 424.5,219.4 426.8,217.5" fill="none" stroke="#5cc3ee" stroke-width="1.3" stroke-linejoin="round" stroke-linecap="round" opacity="1.0"/>
<polyline points="250.5,338.5 255.4,230.0 257.1,225.7 259.3,226.7 261.5,223.2 263.8,224.5 266.0,220.9 268.2,218.7 270.4,221.1 272.6,219.9 274.8,221.8 277.0,223.0 279.2,222.0 281.4,220.2 283.6,222.5 285.8,221.4 288.0,225.3 290.3,224.8 292.5,223.5 294.7,219.5 296.9,222.8 299.1,222.9 301.3,222.6 303.5,221.2 305.7,223.1 307.9,225.2 310.1,225.4 312.3,222.9 314.6,220.0 316.8,218.8 319.0,223.6 321.2,222.2 323.4,221.5 325.6,222.7 327.8,218.5 330.0,219.4 332.2,219.8 334.4,219.9 336.6,219.5 338.8,220.4 341.1,220.6 343.3,222.8 345.5,223.1 347.7,220.4 349.9,223.7 352.1,220.6 354.3,222.6 356.5,220.8 358.7,223.5 360.9,221.8 363.1,221.6 365.4,219.6 367.6,219.1 369.8,221.0 372.0,219.0 374.2,220.7 376.4,219.5 378.6,219.8 380.8,221.7 383.0,220.5 385.2,219.9 387.4,225.3 389.7,225.5 391.9,222.1 394.1,221.3 396.3,221.4 398.5,221.7 400.7,221.4 402.9,217.9 405.1,217.9 407.3,216.7 409.5,216.8 411.7,219.6 413.9,218.7 416.2,218.9 418.4,219.0 420.6,219.8 422.8,219.2 425.0,219.8 427.2,223.1" fill="none" stroke="#7dcef1" stroke-width="1.3" stroke-linejoin="round" stroke-linecap="round" opacity="1.0"/>
<polyline points="250.5,338.5 254.9,247.4 256.7,241.8 258.9,236.3 261.1,233.2 263.3,230.8 265.5,227.2 267.7,228.9 269.9,225.7 272.1,227.0 274.4,227.1 276.6,224.4 278.8,223.7 281.0,222.6 283.2,225.6 285.4,226.3 287.6,222.6 289.8,220.2 292.0,223.5 294.2,224.8 296.4,224.5 298.7,225.9 300.9,220.9 303.1,224.9 305.3,223.1 307.5,226.2 309.7,223.0 311.9,223.1 314.1,219.6 316.3,221.7 318.5,222.8 320.7,219.8 322.9,222.5 325.2,223.7 327.4,224.7 329.6,220.5 331.8,220.8 334.0,222.4 336.2,224.0 338.4,223.4 340.6,222.7 342.8,223.3 345.0,222.2 347.2,222.3 349.5,222.3 351.7,221.2 353.9,220.4 356.1,221.9 358.3,219.7 360.5,219.6 362.7,218.9 364.9,222.0 367.1,217.5 369.3,217.9 371.5,219.0 373.7,219.1 376.0,220.3 378.2,219.8 380.4,216.7 382.6,218.9 384.8,221.3 387.0,219.7 389.2,219.1 391.4,217.5 393.6,218.1 395.8,220.6 398.0,217.5 400.3,219.1 402.5,220.2 404.7,219.6 406.9,221.8 409.1,217.0 411.3,220.3 413.5,215.6 415.7,219.5 417.9,217.4 420.1,218.2 422.3,219.0 424.5,219.6 426.8,218.9" fill="none" stroke="#4dbbea" stroke-width="1.3" stroke-linejoin="round" stroke-linecap="round" opacity="1.0"/>
<polyline points="250.5,338.5 255.8,228.6 257.6,226.8 259.8,223.5 262.0,225.0 264.2,223.7 266.4,225.0 268.6,220.8 270.8,224.1 273.0,222.8 275.2,225.1 277.4,223.3 279.7,224.1 281.9,227.5 284.1,223.1 286.3,226.9 288.5,225.7 290.7,222.7 292.9,225.3 295.1,226.0 297.3,223.8 299.5,222.5 301.7,223.0 304.0,222.7 306.2,224.9 308.4,226.8 310.6,225.5 312.8,223.2 315.0,222.1 317.2,221.1 319.4,219.5 321.6,221.8 323.8,224.2 326.0,221.1 328.2,223.0 330.5,222.0 332.7,221.1 334.9,220.8 337.1,222.7 339.3,224.6 341.5,222.7 343.7,226.2 345.9,221.0 348.1,226.5 350.3,221.3 352.5,224.7 354.8,221.9 357.0,223.1 359.2,222.9 361.4,224.3 363.6,224.2 365.8,224.5 368.0,222.9 370.2,220.8 372.4,219.4 374.6,218.6 376.8,223.4 379.0,221.0 381.3,221.7 383.5,223.0 385.7,221.6 387.9,219.7 390.1,221.6 392.3,220.0 394.5,218.6 396.7,220.1 398.9,220.4 401.1,224.4 403.3,222.5 405.6,221.6 407.8,220.2 410.0,222.3 412.2,221.1 414.4,220.0 416.6,223.7 418.8,220.2 421.0,220.6 423.2,220.9 425.4,221.5" fill="none" stroke="#9ad9f4" stroke-width="1.3" stroke-linejoin="round" stroke-linecap="round" opacity="1.0"/>
<polyline points="250.5,338.5 254.5,253.8 256.2,247.9 258.5,242.6 260.7,238.9 262.9,235.5 265.1,233.3 267.3,232.0 269.5,229.3 271.7,230.4 273.9,228.8 276.1,226.5 278.3,226.2 280.5,228.0 282.7,225.7 285.0,224.9 287.2,228.9 289.4,227.3 291.6,227.8 293.8,226.1 296.0,224.0 298.2,226.0 300.4,223.5 302.6,225.2 304.8,225.0 307.0,224.2 309.3,227.1 311.5,227.1 313.7,225.1 315.9,228.1 318.1,226.4 320.3,223.0 322.5,227.0 324.7,225.1 326.9,225.0 329.1,226.4 331.3,228.8 333.5,228.0 335.8,224.5 338.0,223.5 340.2,225.9 342.4,220.2 344.6,224.5 346.8,223.8 349.0,221.6 351.2,225.8 353.4,225.2 355.6,224.6 357.8,225.8 360.1,221.1 362.3,223.2 364.5,221.4 366.7,221.2 368.9,223.7 371.1,223.1 373.3,218.6 375.5,223.6 377.7,223.9 379.9,220.1 382.1,221.8 384.4,219.9 386.6,218.7 388.8,221.8 391.0,225.2 393.2,221.5 395.4,221.2 397.6,221.3 399.8,221.4 402.0,222.2 404.2,220.5 406.4,221.5 408.6,221.8 410.9,220.3 413.1,221.4 415.3,220.2 417.5,220.4 419.7,219.1 421.9,221.8 424.1,221.6 426.3,220.2" fill="none" stroke="#68c8ef" stroke-width="1.3" stroke-linejoin="round" stroke-linecap="round" opacity="1.0"/>
<polyline points="250.5,338.5 255.8,235.4 257.6,232.0 259.8,229.3 262.0,227.2 264.2,226.8 266.4,225.4 268.6,222.3 270.8,226.0 273.0,226.8 275.2,224.3 277.4,226.5 279.7,226.8 281.9,227.9 284.1,224.6 286.3,223.7 288.5,222.8 290.7,228.5 292.9,225.9 295.1,223.1 297.3,223.6 299.5,225.6 301.7,226.0 304.0,221.4 306.2,221.7 308.4,224.6 310.6,224.9 312.8,222.4 315.0,221.8 317.2,221.0 319.4,227.0 321.6,228.4 323.8,226.7 326.0,226.8 328.2,221.6 330.5,220.6 332.7,221.3 334.9,222.3 337.1,221.9 339.3,221.5 341.5,222.4 343.7,221.9 345.9,223.9 348.1,226.6 350.3,222.7 352.5,225.0 354.8,222.0 357.0,222.8 359.2,223.0 361.4,223.3 363.6,223.9 365.8,221.5 368.0,221.4 370.2,219.6 372.4,221.3 374.6,225.0 376.8,223.5 379.0,224.6 381.3,224.0 383.5,224.2 385.7,224.2 387.9,224.2 390.1,221.6 392.3,224.3 394.5,220.4 396.7,222.9 398.9,222.1 401.1,222.3 403.3,221.5 405.6,221.2 407.8,221.0 410.0,221.2 412.2,221.8 414.4,219.7 416.6,221.7 418.8,219.3 421.0,219.9 423.2,221.6 425.4,223.1" fill="none" stroke="#8fd5f3" stroke-width="1.3" stroke-linejoin="round" stroke-linecap="round" opacity="1.0"/>
<polyline points="250.5,339.0 252.7,311.0 254.9,283.3 257.2,253.9 260.6,253.1 264.8,242.0 269.8,233.8 273.5,230.4 278.2,226.2 280.4,225.9 282.6,228.0 284.8,228.5 287.0,226.8 289.2,225.3 291.4,223.8 293.6,223.5 295.8,224.1 298.0,223.5 300.2,223.7 302.4,224.2 304.7,223.6 306.9,223.9 309.1,222.9 311.3,223.3 313.5,223.1 315.7,220.7 317.9,221.2 320.1,222.7 322.3,221.1 324.5,221.9 326.7,222.4 329.0,222.1 331.2,221.5 333.4,222.8 335.6,222.4 337.8,222.2 340.0,222.0 342.2,222.3 344.4,222.4 346.6,221.3 348.8,221.3 351.0,222.4 353.3,221.9 355.5,220.8 357.7,222.3 359.9,220.9 362.1,220.7 364.3,219.4 366.5,221.0 368.7,220.4 370.9,220.0 373.1,220.9 375.3,219.8 377.5,217.0 379.8,219.7 382.0,222.3 384.2,220.2 386.4,220.8 388.6,218.8 390.8,219.6 393.0,219.9 395.2,219.0 397.4,220.3 399.6,219.0 401.8,220.3 404.1,219.2 406.3,220.0 408.5,217.2 410.7,218.8 412.9,219.1 415.1,215.5 417.3,217.2 419.5,217.1 421.7,217.7 423.9,215.7 426.1,216.8" fill="none" stroke="#1b6db8" stroke-width="3.0" stroke-linejoin="round" stroke-linecap="round" opacity="1.0"/>
<polyline points="447.4,338.5 447.9,330.0 448.5,321.5 449.0,313.0 449.5,304.6 450.0,296.1 450.6,297.4 451.1,289.0 451.6,286.0 452.1,281.3 452.7,276.9 453.2,277.3 453.7,270.3 454.2,266.6 454.8,263.2 455.3,256.3 455.8,255.3 456.4,258.5 456.9,259.8 457.4,256.8 457.9,253.2 458.5,252.1 459.0,252.5 459.5,249.9 460.0,247.8 460.6,248.1 461.1,249.2 461.6,246.7 462.2,245.0 462.7,246.4 463.2,244.9 463.7,242.9 464.3,241.0 464.8,241.6 465.3,242.8 465.8,241.2 466.4,241.4 466.9,241.8 467.4,237.5 467.9,238.9 468.5,241.9 469.0,240.4 469.5,236.9 470.1,234.8 470.6,238.9 471.1,237.3 471.6,235.9 472.2,234.7 472.7,233.5 473.2,234.1 473.7,233.8 474.3,235.0 474.8,233.5 475.3,233.2 475.8,235.3 476.4,237.0 476.9,238.7 477.4,234.0 478.0,233.4 478.5,232.4 479.0,232.9 479.5,227.8 480.1,229.0 480.6,229.1 481.1,226.6 481.6,228.8 482.2,229.9 482.7,229.0 483.2,231.1 483.7,227.9 484.3,227.5 484.8,225.9 485.3,227.7 485.9,226.7 486.4,227.7 486.9,227.0 487.4,230.0 488.0,224.8 488.5,225.6 489.0,225.9 489.5,226.9 490.1,223.7 490.6,223.9 491.1,224.3" fill="none" stroke="#a8def6" stroke-width="1.2" stroke-linejoin="round" stroke-linecap="round" opacity="1.0"/>
<polyline points="447.4,338.5 447.9,330.0 448.5,321.5 449.0,313.0 449.5,304.6 450.0,296.1 450.6,290.2 451.1,287.7 451.6,284.0 452.1,276.0 452.7,273.6 453.2,271.8 453.7,267.1 454.2,259.4 454.8,262.8 455.3,259.3 455.8,259.3 456.4,256.9 456.9,255.8 457.4,253.9 457.9,253.5 458.5,251.6 459.0,249.1 459.5,244.5 460.0,245.2 460.6,246.7 461.1,244.6 461.6,243.4 462.2,241.0 462.7,240.7 463.2,239.4 463.7,239.4 464.3,239.3 464.8,239.5 465.3,237.3 465.8,238.7 466.4,237.0 466.9,234.1 467.4,234.4 467.9,231.5 468.5,232.5 469.0,234.0 469.5,233.9 470.1,232.9 470.6,233.8 471.1,231.9 471.6,232.7 472.2,232.3 472.7,231.3 473.2,232.6 473.7,232.8 474.3,226.4 474.8,230.9 475.3,233.2 475.8,231.9 476.4,228.7 476.9,226.4 477.4,229.6 478.0,229.3 478.5,232.1 479.0,226.6 479.5,225.8 480.1,227.4 480.6,226.2 481.1,229.3 481.6,225.4 482.2,222.9 482.7,225.1 483.2,225.6 483.7,225.4 484.3,224.6 484.8,226.2 485.3,225.8 485.9,223.4 486.4,222.8 486.9,226.8 487.4,225.7 488.0,221.7 488.5,219.3 489.0,220.6 489.5,218.6 490.1,221.8 490.6,223.2 491.1,220.3" fill="none" stroke="#8fd5f3" stroke-width="1.2" stroke-linejoin="round" stroke-linecap="round" opacity="1.0"/>
<polyline points="447.4,338.5 447.9,330.5 448.5,322.5 449.0,314.5 449.5,306.5 450.0,298.5 450.6,290.5 451.1,282.5 451.6,274.5 452.1,267.9 452.7,262.0 453.2,256.1 453.7,250.2 454.2,244.3 454.8,238.4 455.3,232.4 455.8,229.7 456.4,228.7 456.9,223.9 457.4,219.7 457.9,220.8 458.5,221.2 459.0,220.3 459.5,221.0 460.0,220.6 460.6,223.6 461.1,220.5 461.6,221.5 462.2,221.3 462.7,220.4 463.2,221.2 463.7,217.8 464.3,219.7 464.8,219.0 465.3,218.5 465.8,219.7 466.4,221.9 466.9,220.6 467.4,222.0 467.9,220.9 468.5,219.1 469.0,218.6 469.5,221.2 470.1,221.7 470.6,221.2 471.1,221.9 471.6,220.4 472.2,220.5 472.7,219.7 473.2,219.9 473.7,219.4 474.3,220.5 474.8,219.6 475.3,223.4 475.8,222.4 476.4,222.2 476.9,221.4 477.4,219.4 478.0,218.2 478.5,218.6 479.0,219.2 479.5,218.2 480.1,220.0 480.6,221.0 481.1,219.2 481.6,219.9 482.2,221.5 482.7,215.9 483.2,219.5 483.7,220.5 484.3,220.6 484.8,220.5 485.3,222.3 485.9,222.7 486.4,219.5 486.9,220.3 487.4,218.9 488.0,220.1 488.5,220.0 489.0,220.8 489.5,220.9 490.1,219.4 490.6,222.4 491.1,220.9" fill="none" stroke="#84d1f2" stroke-width="1.3" stroke-linejoin="round" stroke-linecap="round" opacity="1.0"/>
<polyline points="447.4,341.5 450.7,285.2 452.7,272.7 455.5,254.9 457.4,251.2 459.7,240.4 462.3,228.0 465.0,215.5 465.5,216.5 466.0,217.0 466.5,215.1 467.1,214.6 467.6,216.3 468.1,215.2 468.6,215.6 469.2,216.6 469.7,213.3 470.2,213.1 470.8,213.9 471.3,213.2 471.8,216.7 472.3,217.4 472.9,214.5 473.4,214.7 473.9,216.5 474.4,215.5 475.0,212.8 475.5,214.0 476.0,214.7 476.5,214.8 477.1,216.3 477.6,215.2 478.1,213.9 478.7,214.5 479.2,214.4 479.7,216.7 480.2,213.8 480.8,213.8 481.3,213.2 481.8,213.8 482.3,214.8 482.9,215.5 483.4,214.2 483.9,215.2 484.5,215.7 485.0,213.6 485.5,214.4 486.0,214.1 486.6,215.5 487.1,216.4 487.6,215.4 488.1,215.8 488.7,216.9 489.2,215.3 489.7,215.8 490.2,216.5 490.8,215.1 491.3,214.7" fill="none" stroke="#1b6db8" stroke-width="2.5" stroke-linejoin="round" stroke-linecap="round" opacity="1.0"/>
<rect x="54.5" y="19.4" width="176.5" height="134.2" fill="none" stroke="#bababa" stroke-width="1.0"/>
<rect x="255.5" y="19.4" width="176.3" height="134.2" fill="none" stroke="#bababa" stroke-width="1.0"/>
<rect x="450.3" y="19.4" width="43.0" height="134.2" fill="none" stroke="#bababa" stroke-width="1.0"/>
<rect x="54.5" y="209.4" width="176.7" height="135.4" fill="none" stroke="#bababa" stroke-width="1.0"/>
<rect x="250.5" y="209.4" width="177.10000000000002" height="135.4" fill="none" stroke="#bababa" stroke-width="1.0"/>
<rect x="447.4" y="209.4" width="43.900000000000034" height="135.4" fill="none" stroke="#bababa" stroke-width="1.0"/>
<line x1="54.5" y1="147.50" x2="56.7" y2="147.50" stroke="#bababa" stroke-width="0.9"/>
<line x1="54.5" y1="117.20" x2="56.7" y2="117.20" stroke="#bababa" stroke-width="0.9"/>
<line x1="54.5" y1="86.90" x2="56.7" y2="86.90" stroke="#bababa" stroke-width="0.9"/>
<line x1="54.5" y1="56.60" x2="56.7" y2="56.60" stroke="#bababa" stroke-width="0.9"/>
<line x1="54.5" y1="26.30" x2="56.7" y2="26.30" stroke="#bababa" stroke-width="0.9"/>
<line x1="255.5" y1="147.50" x2="257.7" y2="147.50" stroke="#bababa" stroke-width="0.9"/>
<line x1="255.5" y1="117.20" x2="257.7" y2="117.20" stroke="#bababa" stroke-width="0.9"/>
<line x1="255.5" y1="86.90" x2="257.7" y2="86.90" stroke="#bababa" stroke-width="0.9"/>
<line x1="255.5" y1="56.60" x2="257.7" y2="56.60" stroke="#bababa" stroke-width="0.9"/>
<line x1="255.5" y1="26.30" x2="257.7" y2="26.30" stroke="#bababa" stroke-width="0.9"/>
<line x1="450.3" y1="147.50" x2="452.5" y2="147.50" stroke="#bababa" stroke-width="0.9"/>
<line x1="450.3" y1="117.20" x2="452.5" y2="117.20" stroke="#bababa" stroke-width="0.9"/>
<line x1="450.3" y1="86.90" x2="452.5" y2="86.90" stroke="#bababa" stroke-width="0.9"/>
<line x1="450.3" y1="56.60" x2="452.5" y2="56.60" stroke="#bababa" stroke-width="0.9"/>
<line x1="450.3" y1="26.30" x2="452.5" y2="26.30" stroke="#bababa" stroke-width="0.9"/>
<line x1="54.5" y1="338.50" x2="56.7" y2="338.50" stroke="#bababa" stroke-width="0.9"/>
<line x1="54.5" y1="308.20" x2="56.7" y2="308.20" stroke="#bababa" stroke-width="0.9"/>
<line x1="54.5" y1="277.90" x2="56.7" y2="277.90" stroke="#bababa" stroke-width="0.9"/>
<line x1="54.5" y1="247.60" x2="56.7" y2="247.60" stroke="#bababa" stroke-width="0.9"/>
<line x1="54.5" y1="217.30" x2="56.7" y2="217.30" stroke="#bababa" stroke-width="0.9"/>
<line x1="250.5" y1="338.50" x2="252.7" y2="338.50" stroke="#bababa" stroke-width="0.9"/>
<line x1="250.5" y1="308.20" x2="252.7" y2="308.20" stroke="#bababa" stroke-width="0.9"/>
<line x1="250.5" y1="277.90" x2="252.7" y2="277.90" stroke="#bababa" stroke-width="0.9"/>
<line x1="250.5" y1="247.60" x2="252.7" y2="247.60" stroke="#bababa" stroke-width="0.9"/>
<line x1="250.5" y1="217.30" x2="252.7" y2="217.30" stroke="#bababa" stroke-width="0.9"/>
<line x1="447.4" y1="338.50" x2="449.59999999999997" y2="338.50" stroke="#bababa" stroke-width="0.9"/>
<line x1="447.4" y1="308.20" x2="449.59999999999997" y2="308.20" stroke="#bababa" stroke-width="0.9"/>
<line x1="447.4" y1="277.90" x2="449.59999999999997" y2="277.90" stroke="#bababa" stroke-width="0.9"/>
<line x1="447.4" y1="247.60" x2="449.59999999999997" y2="247.60" stroke="#bababa" stroke-width="0.9"/>
<line x1="447.4" y1="217.30" x2="449.59999999999997" y2="217.30" stroke="#bababa" stroke-width="0.9"/>
<line x1="98.50" y1="153.6" x2="98.50" y2="151.4" stroke="#bababa" stroke-width="0.9"/>
<line x1="142.50" y1="153.6" x2="142.50" y2="151.4" stroke="#bababa" stroke-width="0.9"/>
<line x1="186.50" y1="153.6" x2="186.50" y2="151.4" stroke="#bababa" stroke-width="0.9"/>
<line x1="299.60" y1="153.6" x2="299.60" y2="151.4" stroke="#bababa" stroke-width="0.9"/>
<line x1="343.70" y1="153.6" x2="343.70" y2="151.4" stroke="#bababa" stroke-width="0.9"/>
<line x1="387.80" y1="153.6" x2="387.80" y2="151.4" stroke="#bababa" stroke-width="0.9"/>
<line x1="458.90" y1="153.6" x2="458.90" y2="151.4" stroke="#bababa" stroke-width="0.9"/>
<line x1="467.50" y1="153.6" x2="467.50" y2="151.4" stroke="#bababa" stroke-width="0.9"/>
<line x1="476.10" y1="153.6" x2="476.10" y2="151.4" stroke="#bababa" stroke-width="0.9"/>
<line x1="484.70" y1="153.6" x2="484.70" y2="151.4" stroke="#bababa" stroke-width="0.9"/>
<line x1="98.53" y1="344.8" x2="98.53" y2="342.6" stroke="#bababa" stroke-width="0.9"/>
<line x1="142.55" y1="344.8" x2="142.55" y2="342.6" stroke="#bababa" stroke-width="0.9"/>
<line x1="186.57" y1="344.8" x2="186.57" y2="342.6" stroke="#bababa" stroke-width="0.9"/>
<line x1="294.68" y1="344.8" x2="294.68" y2="342.6" stroke="#bababa" stroke-width="0.9"/>
<line x1="338.85" y1="344.8" x2="338.85" y2="342.6" stroke="#bababa" stroke-width="0.9"/>
<line x1="383.02" y1="344.8" x2="383.02" y2="342.6" stroke="#bababa" stroke-width="0.9"/>
<line x1="456.18" y1="344.8" x2="456.18" y2="342.6" stroke="#bababa" stroke-width="0.9"/>
<line x1="464.96" y1="344.8" x2="464.96" y2="342.6" stroke="#bababa" stroke-width="0.9"/>
<line x1="473.74" y1="344.8" x2="473.74" y2="342.6" stroke="#bababa" stroke-width="0.9"/>
<line x1="482.52" y1="344.8" x2="482.52" y2="342.6" stroke="#bababa" stroke-width="0.9"/>
<text x="30.02" y="30.71" font-family='"Liberation Serif", serif' font-size="14.37" textLength="21.56" lengthAdjust="spacingAndGlyphs" fill="#2a2a2a" stroke="#2a2a2a" stroke-width="0.15">200</text>
<text x="30.02" y="61.11" font-family='"Liberation Serif", serif' font-size="14.37" textLength="21.56" lengthAdjust="spacingAndGlyphs" fill="#2a2a2a" stroke="#2a2a2a" stroke-width="0.15">150</text>
<text x="30.02" y="91.71" font-family='"Liberation Serif", serif' font-size="14.37" textLength="21.56" lengthAdjust="spacingAndGlyphs" fill="#2a2a2a" stroke="#2a2a2a" stroke-width="0.15">100</text>
<text x="37.20" y="122.31" font-family='"Liberation Serif", serif' font-size="14.37" textLength="14.37" lengthAdjust="spacingAndGlyphs" fill="#2a2a2a" stroke="#2a2a2a" stroke-width="0.15">50</text>
<text x="43.20" y="152.51" font-family='"Liberation Serif", serif' font-size="14.37" textLength="8.05" lengthAdjust="spacingAndGlyphs" fill="#2a2a2a" stroke="#2a2a2a" stroke-width="0.15">0</text>
<text x="30.12" y="220.11" font-family='"Liberation Serif", serif' font-size="14.37" textLength="21.56" lengthAdjust="spacingAndGlyphs" fill="#2a2a2a" stroke="#2a2a2a" stroke-width="0.15">200</text>
<text x="30.12" y="250.81" font-family='"Liberation Serif", serif' font-size="14.37" textLength="21.56" lengthAdjust="spacingAndGlyphs" fill="#2a2a2a" stroke="#2a2a2a" stroke-width="0.15">150</text>
<text x="30.12" y="281.01" font-family='"Liberation Serif", serif' font-size="14.37" textLength="21.56" lengthAdjust="spacingAndGlyphs" fill="#2a2a2a" stroke="#2a2a2a" stroke-width="0.15">100</text>
<text x="37.30" y="312.21" font-family='"Liberation Serif", serif' font-size="14.37" textLength="14.37" lengthAdjust="spacingAndGlyphs" fill="#2a2a2a" stroke="#2a2a2a" stroke-width="0.15">50</text>
<text x="43.50" y="342.71" font-family='"Liberation Serif", serif' font-size="14.37" textLength="8.05" lengthAdjust="spacingAndGlyphs" fill="#2a2a2a" stroke="#2a2a2a" stroke-width="0.15">0</text>
<text x="50.78" y="169.81" font-family='"Liberation Serif", serif' font-size="14.37" textLength="8.05" lengthAdjust="spacingAndGlyphs" fill="#2a2a2a" stroke="#2a2a2a" stroke-width="0.15">0</text>
<text x="89.78" y="169.74" font-family='"Liberation Serif", serif' font-size="14.26" textLength="17.83" lengthAdjust="spacingAndGlyphs" fill="#2a2a2a" stroke="#2a2a2a" stroke-width="0.15">0.5</text>
<text x="138.64" y="169.95" font-family='"Liberation Serif", serif' font-size="14.70" textLength="7.35" lengthAdjust="spacingAndGlyphs" fill="#2a2a2a" stroke="#2a2a2a" stroke-width="0.15">1</text>
<text x="177.20" y="169.73" font-family='"Liberation Serif", serif' font-size="14.37" textLength="17.96" lengthAdjust="spacingAndGlyphs" fill="#2a2a2a" stroke="#2a2a2a" stroke-width="0.15">1.5</text>
<text x="227.00" y="169.95" font-family='"Liberation Serif", serif' font-size="14.70" textLength="7.35" lengthAdjust="spacingAndGlyphs" fill="#2a2a2a" stroke="#2a2a2a" stroke-width="0.15">2</text>
<text x="246.88" y="169.81" font-family='"Liberation Serif", serif' font-size="14.37" textLength="8.05" lengthAdjust="spacingAndGlyphs" fill="#2a2a2a" stroke="#2a2a2a" stroke-width="0.15">0</text>
<text x="285.58" y="169.74" font-family='"Liberation Serif", serif' font-size="14.26" textLength="17.83" lengthAdjust="spacingAndGlyphs" fill="#2a2a2a" stroke="#2a2a2a" stroke-width="0.15">0.5</text>
<text x="334.64" y="169.95" font-family='"Liberation Serif", serif' font-size="14.70" textLength="7.35" lengthAdjust="spacingAndGlyphs" fill="#2a2a2a" stroke="#2a2a2a" stroke-width="0.15">1</text>
<text x="373.50" y="169.73" font-family='"Liberation Serif", serif' font-size="14.37" textLength="17.96" lengthAdjust="spacingAndGlyphs" fill="#2a2a2a" stroke="#2a2a2a" stroke-width="0.15">1.5</text>
<text x="423.10" y="169.95" font-family='"Liberation Serif", serif' font-size="14.70" textLength="7.35" lengthAdjust="spacingAndGlyphs" fill="#2a2a2a" stroke="#2a2a2a" stroke-width="0.15">2</text>
<text x="446.38" y="169.81" font-family='"Liberation Serif", serif' font-size="14.37" textLength="8.05" lengthAdjust="spacingAndGlyphs" fill="#2a2a2a" stroke="#2a2a2a" stroke-width="0.15">0</text>
<text x="486.38" y="169.74" font-family='"Liberation Serif", serif' font-size="14.26" textLength="17.83" lengthAdjust="spacingAndGlyphs" fill="#2a2a2a" stroke="#2a2a2a" stroke-width="0.15">0.5</text>
<text x="50.78" y="360.71" font-family='"Liberation Serif", serif' font-size="14.37" textLength="8.05" lengthAdjust="spacingAndGlyphs" fill="#2a2a2a" stroke="#2a2a2a" stroke-width="0.15">0</text>
<text x="89.78" y="360.64" font-family='"Liberation Serif", serif' font-size="14.26" textLength="17.83" lengthAdjust="spacingAndGlyphs" fill="#2a2a2a" stroke="#2a2a2a" stroke-width="0.15">0.5</text>
<text x="138.64" y="360.85" font-family='"Liberation Serif", serif' font-size="14.70" textLength="7.35" lengthAdjust="spacingAndGlyphs" fill="#2a2a2a" stroke="#2a2a2a" stroke-width="0.15">1</text>
<text x="177.20" y="360.63" font-family='"Liberation Serif", serif' font-size="14.37" textLength="17.96" lengthAdjust="spacingAndGlyphs" fill="#2a2a2a" stroke="#2a2a2a" stroke-width="0.15">1.5</text>
<text x="227.00" y="360.85" font-family='"Liberation Serif", serif' font-size="14.70" textLength="7.35" lengthAdjust="spacingAndGlyphs" fill="#2a2a2a" stroke="#2a2a2a" stroke-width="0.15">2</text>
<text x="246.68" y="360.71" font-family='"Liberation Serif", serif' font-size="14.37" textLength="8.05" lengthAdjust="spacingAndGlyphs" fill="#2a2a2a" stroke="#2a2a2a" stroke-width="0.15">0</text>
<text x="285.78" y="360.64" font-family='"Liberation Serif", serif' font-size="14.26" textLength="17.83" lengthAdjust="spacingAndGlyphs" fill="#2a2a2a" stroke="#2a2a2a" stroke-width="0.15">0.5</text>
<text x="334.84" y="360.85" font-family='"Liberation Serif", serif' font-size="14.70" textLength="7.35" lengthAdjust="spacingAndGlyphs" fill="#2a2a2a" stroke="#2a2a2a" stroke-width="0.15">1</text>
<text x="373.60" y="360.63" font-family='"Liberation Serif", serif' font-size="14.37" textLength="17.96" lengthAdjust="spacingAndGlyphs" fill="#2a2a2a" stroke="#2a2a2a" stroke-width="0.15">1.5</text>
<text x="423.40" y="360.85" font-family='"Liberation Serif", serif' font-size="14.70" textLength="7.35" lengthAdjust="spacingAndGlyphs" fill="#2a2a2a" stroke="#2a2a2a" stroke-width="0.15">2</text>
<text x="446.48" y="360.71" font-family='"Liberation Serif", serif' font-size="14.37" textLength="8.05" lengthAdjust="spacingAndGlyphs" fill="#2a2a2a" stroke="#2a2a2a" stroke-width="0.15">0</text>
<text x="486.28" y="360.64" font-family='"Liberation Serif", serif' font-size="14.26" textLength="17.83" lengthAdjust="spacingAndGlyphs" fill="#2a2a2a" stroke="#2a2a2a" stroke-width="0.15">0.5</text>
<text x="495.14" y="153.91" font-family='"Liberation Serif", serif' font-size="17.78" textLength="10.30" lengthAdjust="spacingAndGlyphs" fill="#262626">×</text>
<text x="505.63" y="151.75" font-family='"Liberation Serif", serif' font-size="14.81" textLength="14.97" lengthAdjust="spacingAndGlyphs" fill="#262626">10</text>
<text x="520.08" y="145.80" font-family='"Liberation Serif", serif' font-size="10.38" textLength="6.30" lengthAdjust="spacingAndGlyphs" fill="#262626">7</text>
<text x="495.14" y="344.51" font-family='"Liberation Serif", serif' font-size="17.78" textLength="10.30" lengthAdjust="spacingAndGlyphs" fill="#262626">×</text>
<text x="505.63" y="342.35" font-family='"Liberation Serif", serif' font-size="14.81" textLength="14.97" lengthAdjust="spacingAndGlyphs" fill="#262626">10</text>
<text x="520.08" y="336.40" font-family='"Liberation Serif", serif' font-size="10.38" textLength="6.30" lengthAdjust="spacingAndGlyphs" fill="#262626">7</text>
<text x="141.40" y="38.20" font-family='"Liberation Sans", sans-serif' font-size="11.86" textLength="79.84" lengthAdjust="spacingAndGlyphs" fill="#262626" stroke="#262626" stroke-width="0.2">CFD, Re = 400</text>
<text x="149.52" y="120.20" font-family='"Liberation Sans", sans-serif' font-size="15.59" textLength="71.95" lengthAdjust="spacingAndGlyphs" fill="#111" stroke="#111" stroke-width="0.2">Flow blind</text>
<text x="341.40" y="142.80" font-family='"Liberation Sans", sans-serif' font-size="11.43" textLength="80.25" lengthAdjust="spacingAndGlyphs" fill="#262626" stroke="#262626" stroke-width="0.2">CFD, Re = 400</text>
<text x="468.14" y="143.40" font-family='"Liberation Sans", sans-serif' font-size="13.00" textLength="16.26" lengthAdjust="spacingAndGlyphs" fill="#262626" stroke="#262626" stroke-width="0.2">VS</text>
<text x="141.40" y="228.90" font-family='"Liberation Sans", sans-serif' font-size="12.14" textLength="80.25" lengthAdjust="spacingAndGlyphs" fill="#262626" stroke="#262626" stroke-width="0.2">CFD, Re = 400</text>
<text x="136.92" y="295.70" font-family='"Liberation Sans", sans-serif' font-size="15.59" textLength="84.61" lengthAdjust="spacingAndGlyphs" fill="#1f74c4" stroke="#1f74c4" stroke-width="0.2">Flow limited</text>
<text x="341.30" y="334.00" font-family='"Liberation Sans", sans-serif' font-size="12.29" textLength="80.35" lengthAdjust="spacingAndGlyphs" fill="#262626" stroke="#262626" stroke-width="0.2">CFD, Re = 400</text>
<text x="468.14" y="334.10" font-family='"Liberation Sans", sans-serif' font-size="12.14" textLength="16.36" lengthAdjust="spacingAndGlyphs" fill="#262626" stroke="#262626" stroke-width="0.2">VS</text>
<text x="0.00" y="17.30" font-family='"Liberation Sans", sans-serif' font-size="24.78" textLength="15.15" lengthAdjust="spacingAndGlyphs" fill="#111" stroke="#111" stroke-width="0.2">A</text>
<text x="-1.32" y="215.80" font-family='"Liberation Sans", sans-serif' font-size="25.22" textLength="17.70" lengthAdjust="spacingAndGlyphs" fill="#111" stroke="#111" stroke-width="0.2">B</text>
<text x="522.76" y="17.74" font-family='"Liberation Sans", sans-serif' font-size="25.77" textLength="17.97" lengthAdjust="spacingAndGlyphs" fill="#111" stroke="#111" stroke-width="0.2">C</text>
<text x="523.36" y="215.90" font-family='"Liberation Sans", sans-serif' font-size="25.36" textLength="17.48" lengthAdjust="spacingAndGlyphs" fill="#111" stroke="#111" stroke-width="0.2">D</text>
<text x="20.60" y="125.37" transform="rotate(-90 20.60 125.37)" font-family='"Liberation Sans", sans-serif' font-size="18.21" textLength="64.14" lengthAdjust="spacingAndGlyphs" fill="#111" stroke="#111" stroke-width="0.2">rewards</text>
<text x="20.40" y="310.75" transform="rotate(-90 20.40 310.75)" font-family='"Liberation Sans", sans-serif' font-size="18.07" textLength="63.00" lengthAdjust="spacingAndGlyphs" fill="#111" stroke="#111" stroke-width="0.2">rewards</text>
<text x="267.03" y="391.90" font-family='"Liberation Sans", sans-serif' font-size="16.55" textLength="76.79" lengthAdjust="spacingAndGlyphs" fill="#111" stroke="#111" stroke-width="0.2">timesteps</text>
<text x="549.30" y="161.93" transform="rotate(-90 549.30 161.93)" font-family='"Liberation Sans", sans-serif' font-size="17.79" textLength="132.43" lengthAdjust="spacingAndGlyphs" fill="#111" stroke="#111" stroke-width="0.2">success rate (%)</text>
<text x="549.50" y="356.03" transform="rotate(-90 549.50 356.03)" font-family='"Liberation Sans", sans-serif' font-size="18.34" textLength="132.73" lengthAdjust="spacingAndGlyphs" fill="#111" stroke="#111" stroke-width="0.2">success rate (%)</text>
<line x1="600.8" y1="14.0" x2="600.8" y2="178.2" stroke="#a2a2a2" stroke-width="1" stroke-dasharray="2,2" stroke-dashoffset="0.9"/>
<line x1="635.0" y1="14.0" x2="635.0" y2="178.2" stroke="#a2a2a2" stroke-width="1" stroke-dasharray="2,2" stroke-dashoffset="0.9"/>
<line x1="669.3" y1="14.0" x2="669.3" y2="178.2" stroke="#a2a2a2" stroke-width="1" stroke-dasharray="2,2" stroke-dashoffset="0.9"/>
<line x1="585.5" y1="57.85" x2="684.4" y2="57.85" stroke="#a2a2a2" stroke-width="1" stroke-dasharray="2.2,1.8" stroke-dashoffset="0.5"/>
<line x1="585.5" y1="96.45" x2="684.4" y2="96.45" stroke="#a2a2a2" stroke-width="1" stroke-dasharray="2.2,1.8" stroke-dashoffset="0.5"/>
<line x1="585.5" y1="136.3" x2="684.4" y2="136.3" stroke="#a2a2a2" stroke-width="1" stroke-dasharray="2.2,1.8" stroke-dashoffset="0.5"/>
<line x1="585.5" y1="14.0" x2="585.5" y2="178.79999999999998" stroke="#666666" stroke-width="1.2"/>
<line x1="584.9" y1="178.2" x2="685.0" y2="178.2" stroke="#666666" stroke-width="1.2"/>
<line x1="684.4" y1="14.0" x2="684.4" y2="178.2" stroke="#666666" stroke-width="1.2"/>
<line x1="584.9" y1="14.0" x2="685.0" y2="14.0" stroke="#ababab" stroke-width="1.5"/>
<line x1="600.8" y1="178.2" x2="600.8" y2="176.2" stroke="#666666" stroke-width="0.9"/>
<line x1="635.0" y1="178.2" x2="635.0" y2="176.2" stroke="#666666" stroke-width="0.9"/>
<line x1="669.3" y1="178.2" x2="669.3" y2="176.2" stroke="#666666" stroke-width="0.9"/>
<text x="556.62" y="25.71" font-family='"Liberation Serif", serif' font-size="14.37" textLength="21.56" lengthAdjust="spacingAndGlyphs" fill="#2a2a2a" stroke="#2a2a2a" stroke-width="0.15">100</text>
<text x="564.50" y="65.70" font-family='"Liberation Serif", serif' font-size="14.59" textLength="14.59" lengthAdjust="spacingAndGlyphs" fill="#2a2a2a" stroke="#2a2a2a" stroke-width="0.15">75</text>
<text x="565.00" y="103.51" font-family='"Liberation Serif", serif' font-size="14.37" textLength="14.37" lengthAdjust="spacingAndGlyphs" fill="#2a2a2a" stroke="#2a2a2a" stroke-width="0.15">50</text>
<text x="564.30" y="141.31" font-family='"Liberation Serif", serif' font-size="14.48" textLength="14.48" lengthAdjust="spacingAndGlyphs" fill="#2a2a2a" stroke="#2a2a2a" stroke-width="0.15">25</text>
<text x="572.30" y="181.81" font-family='"Liberation Serif", serif' font-size="14.37" textLength="8.05" lengthAdjust="spacingAndGlyphs" fill="#2a2a2a" stroke="#2a2a2a" stroke-width="0.15">0</text>
<ellipse cx="600.80" cy="154.60" rx="5.2" ry="4.7" fill="#8b8b8b" stroke="#1c1c1c" stroke-width="1.25"/>
<ellipse cx="600.80" cy="158.20" rx="5.2" ry="4.7" fill="#8b8b8b" stroke="#1c1c1c" stroke-width="1.25"/>
<ellipse cx="600.80" cy="163.30" rx="5.2" ry="4.7" fill="#8b8b8b" stroke="#1c1c1c" stroke-width="1.25"/>
<ellipse cx="600.80" cy="173.30" rx="5.2" ry="4.7" fill="#8b8b8b" stroke="#1c1c1c" stroke-width="1.25"/>
<ellipse cx="635.20" cy="15.10" rx="7.9" ry="7.7" fill="#8b8b8b" stroke="#1c1c1c" stroke-width="1.3"/>
<ellipse cx="635.20" cy="16.50" rx="6.6" ry="6.2" fill="#8b8b8b" stroke="#1c1c1c" stroke-width="1.2"/>
<ellipse cx="635.20" cy="21.50" rx="5.2" ry="4.7" fill="#8b8b8b" stroke="#1c1c1c" stroke-width="1.25"/>
<ellipse cx="635.20" cy="32.00" rx="5.2" ry="4.7" fill="#8b8b8b" stroke="#1c1c1c" stroke-width="1.25"/>
<ellipse cx="635.20" cy="16.30" rx="5.2" ry="4.7" fill="#8b8b8b" stroke="#1c1c1c" stroke-width="1.25"/>
<ellipse cx="635.20" cy="27.00" rx="5.2" ry="4.7" fill="#8b8b8b" stroke="#1c1c1c" stroke-width="1.25"/>
<ellipse cx="635.20" cy="40.20" rx="5.2" ry="4.7" fill="#8b8b8b" stroke="#1c1c1c" stroke-width="1.25"/>
<ellipse cx="635.20" cy="50.50" rx="5.2" ry="4.7" fill="#8b8b8b" stroke="#1c1c1c" stroke-width="1.25"/>
<ellipse cx="669.40" cy="13.90" rx="7.9" ry="7.7" fill="#8b8b8b" stroke="#1c1c1c" stroke-width="1.3"/>
<ellipse cx="669.40" cy="13.90" rx="5.2" ry="4.7" fill="#8b8b8b" stroke="#1c1c1c" stroke-width="1.25"/>
<line x1="600.8" y1="207.5" x2="600.8" y2="371.5" stroke="#a2a2a2" stroke-width="1" stroke-dasharray="2,2" stroke-dashoffset="0.9"/>
<line x1="635.0" y1="207.5" x2="635.0" y2="371.5" stroke="#a2a2a2" stroke-width="1" stroke-dasharray="2,2" stroke-dashoffset="0.9"/>
<line x1="669.3" y1="207.5" x2="669.3" y2="371.5" stroke="#a2a2a2" stroke-width="1" stroke-dasharray="2,2" stroke-dashoffset="0.9"/>
<line x1="585.5" y1="251.4" x2="684.4" y2="251.4" stroke="#a2a2a2" stroke-width="1" stroke-dasharray="2.2,1.8" stroke-dashoffset="0.5"/>
<line x1="585.5" y1="290.0" x2="684.4" y2="290.0" stroke="#a2a2a2" stroke-width="1" stroke-dasharray="2.2,1.8" stroke-dashoffset="0.5"/>
<line x1="585.5" y1="329.5" x2="684.4" y2="329.5" stroke="#a2a2a2" stroke-width="1" stroke-dasharray="2.2,1.8" stroke-dashoffset="0.5"/>
<line x1="585.5" y1="207.5" x2="585.5" y2="372.1" stroke="#666666" stroke-width="1.2"/>
<line x1="584.9" y1="371.8" x2="685.0" y2="371.8" stroke="#8a8a8a" stroke-width="1.4"/>
<line x1="684.4" y1="207.5" x2="684.4" y2="371.5" stroke="#666666" stroke-width="1.2"/>
<line x1="584.9" y1="207.5" x2="685.0" y2="207.5" stroke="#666666" stroke-width="1.2"/>
<line x1="600.8" y1="371.5" x2="600.8" y2="369.5" stroke="#666666" stroke-width="0.9"/>
<line x1="635.0" y1="371.5" x2="635.0" y2="369.5" stroke="#666666" stroke-width="0.9"/>
<line x1="669.3" y1="371.5" x2="669.3" y2="369.5" stroke="#666666" stroke-width="0.9"/>
<text x="556.62" y="216.71" font-family='"Liberation Serif", serif' font-size="14.37" textLength="21.56" lengthAdjust="spacingAndGlyphs" fill="#2a2a2a" stroke="#2a2a2a" stroke-width="0.15">100</text>
<text x="564.70" y="256.80" font-family='"Liberation Serif", serif' font-size="14.59" textLength="14.59" lengthAdjust="spacingAndGlyphs" fill="#2a2a2a" stroke="#2a2a2a" stroke-width="0.15">75</text>
<text x="565.20" y="295.11" font-family='"Liberation Serif", serif' font-size="14.37" textLength="14.37" lengthAdjust="spacingAndGlyphs" fill="#2a2a2a" stroke="#2a2a2a" stroke-width="0.15">50</text>
<text x="565.00" y="332.81" font-family='"Liberation Serif", serif' font-size="14.48" textLength="14.48" lengthAdjust="spacingAndGlyphs" fill="#2a2a2a" stroke="#2a2a2a" stroke-width="0.15">25</text>
<text x="572.50" y="372.71" font-family='"Liberation Serif", serif' font-size="14.37" textLength="8.05" lengthAdjust="spacingAndGlyphs" fill="#2a2a2a" stroke="#2a2a2a" stroke-width="0.15">0</text>
<ellipse cx="600.80" cy="370.40" rx="5.2" ry="4.7" fill="#2aa5e3" stroke="#1b78c4" stroke-width="1.25"/>
<ellipse cx="600.80" cy="356.80" rx="5.2" ry="4.7" fill="#2aa5e3" stroke="#1b78c4" stroke-width="1.25"/>
<ellipse cx="600.80" cy="347.50" rx="5.2" ry="4.7" fill="#2aa5e3" stroke="#1b78c4" stroke-width="1.25"/>
<ellipse cx="600.80" cy="331.50" rx="5.2" ry="4.7" fill="#2aa5e3" stroke="#1b78c4" stroke-width="1.25"/>
<ellipse cx="600.80" cy="324.50" rx="5.2" ry="4.7" fill="#2aa5e3" stroke="#1b78c4" stroke-width="1.25"/>
<ellipse cx="600.80" cy="336.60" rx="5.2" ry="4.7" fill="#2aa5e3" stroke="#1b78c4" stroke-width="1.25"/>
<ellipse cx="600.80" cy="342.00" rx="5.2" ry="4.7" fill="#2aa5e3" stroke="#1b78c4" stroke-width="1.25"/>
<ellipse cx="600.80" cy="319.60" rx="5.2" ry="4.7" fill="#2aa5e3" stroke="#1b78c4" stroke-width="1.25"/>
<ellipse cx="635.20" cy="207.20" rx="7.9" ry="7.7" fill="#2aa5e3" stroke="#1b78c4" stroke-width="1.3"/>
<ellipse cx="635.20" cy="212.60" rx="5.2" ry="4.7" fill="#2aa5e3" stroke="#1b78c4" stroke-width="1.25"/>
<ellipse cx="635.20" cy="208.00" rx="5.2" ry="4.7" fill="#2aa5e3" stroke="#1b78c4" stroke-width="1.25"/>
<ellipse cx="635.20" cy="252.60" rx="5.2" ry="4.7" fill="#2aa5e3" stroke="#1b78c4" stroke-width="1.25"/>
<ellipse cx="635.20" cy="246.00" rx="5.2" ry="4.7" fill="#2aa5e3" stroke="#1b78c4" stroke-width="1.25"/>
<ellipse cx="635.20" cy="239.50" rx="5.2" ry="4.7" fill="#2aa5e3" stroke="#1b78c4" stroke-width="1.25"/>
<ellipse cx="635.20" cy="233.30" rx="5.2" ry="4.7" fill="#2aa5e3" stroke="#1b78c4" stroke-width="1.25"/>
<ellipse cx="635.20" cy="227.20" rx="5.2" ry="4.7" fill="#2aa5e3" stroke="#1b78c4" stroke-width="1.25"/>
<ellipse cx="669.40" cy="207.50" rx="7.9" ry="7.7" fill="#2aa5e3" stroke="#1b78c4" stroke-width="1.3"/>
<ellipse cx="669.40" cy="206.40" rx="6.6" ry="6.2" fill="#2aa5e3" stroke="#1b78c4" stroke-width="1.2"/>
<ellipse cx="669.40" cy="212.00" rx="5.2" ry="4.7" fill="#2aa5e3" stroke="#1b78c4" stroke-width="1.25"/>
<ellipse cx="669.40" cy="210.00" rx="5.2" ry="4.7" fill="#2aa5e3" stroke="#1b78c4" stroke-width="1.25"/>
<text x="600.60" y="138.60" transform="rotate(-90 600.60 138.60)" font-family='"Liberation Sans", sans-serif' font-size="12.41" textLength="29.16" lengthAdjust="spacingAndGlyphs" fill="#111" stroke="#111" stroke-width="0.2">Flow</text>
<text x="614.30" y="138.40" transform="rotate(-90 614.30 138.40)" font-family='"Liberation Sans", sans-serif' font-size="13.10" textLength="29.35" lengthAdjust="spacingAndGlyphs" fill="#111" stroke="#111" stroke-width="0.2">blind</text>
<text x="601.10" y="305.00" transform="rotate(-90 601.10 305.00)" font-family='"Liberation Sans", sans-serif' font-size="13.24" textLength="29.16" lengthAdjust="spacingAndGlyphs" fill="#1f74c4" stroke="#1f74c4" stroke-width="0.2">Flow</text>
<text x="615.30" y="304.80" transform="rotate(-90 615.30 304.80)" font-family='"Liberation Sans", sans-serif' font-size="14.07" textLength="39.89" lengthAdjust="spacingAndGlyphs" fill="#1f74c4" stroke="#1f74c4" stroke-width="0.2">limited</text>
<text x="606.40" y="419.43" transform="rotate(-90 606.40 419.43)" font-family='"Liberation Sans", sans-serif' font-size="17.14" textLength="34.18" lengthAdjust="spacingAndGlyphs" fill="#111" stroke="#111" stroke-width="0.2">CFD</text>
<text x="642.00" y="419.43" transform="rotate(-90 642.00 419.43)" font-family='"Liberation Sans", sans-serif' font-size="17.00" textLength="34.18" lengthAdjust="spacingAndGlyphs" fill="#111" stroke="#111" stroke-width="0.2">CFD</text>
<text x="678.00" y="404.78" transform="rotate(-90 678.00 404.78)" font-family='"Liberation Sans", sans-serif' font-size="17.29" textLength="20.95" lengthAdjust="spacingAndGlyphs" fill="#111" stroke="#111" stroke-width="0.2">VS</text>
</svg>
</body></html>
